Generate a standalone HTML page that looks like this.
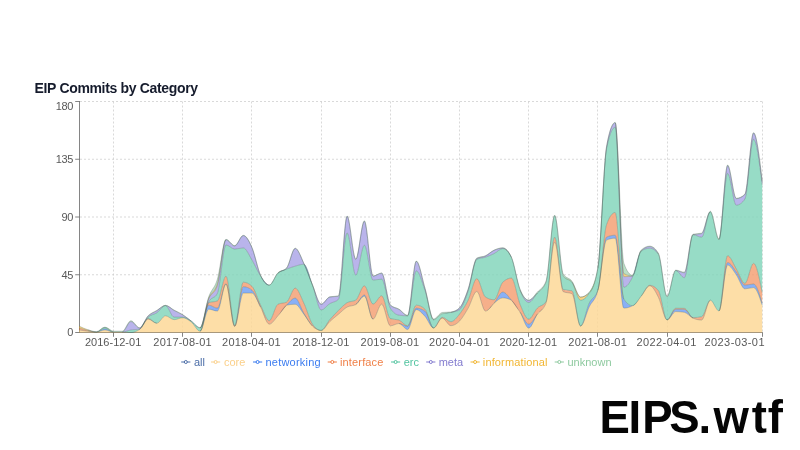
<!DOCTYPE html>
<html><head><meta charset="utf-8"><title>EIP Commits by Category</title>
<style>
html,body{margin:0;padding:0;background:#fff;}
body{width:800px;height:450px;overflow:hidden;position:relative;font-family:"Liberation Sans",sans-serif;}
#title{position:absolute;left:34.5px;top:80px;font-size:14px;font-weight:700;color:#151b2c;letter-spacing:-0.33px;line-height:16px;white-space:nowrap;}
#brand{position:absolute;left:599.4px;top:393.4px;font-size:45.5px;font-weight:700;color:#050505;letter-spacing:0.45px;line-height:50px;white-space:nowrap;}
svg{position:absolute;left:0;top:0;}
.grid line{stroke:#cccccc;stroke-width:0.75;stroke-dasharray:2 2;}
.axes line{stroke:#666;stroke-width:0.8;}
.ticks text{font-family:"Liberation Sans",sans-serif;font-size:11px;fill:#585858;}
.ticks text.yl{letter-spacing:-0.3px;}
.legend text{font-family:"Liberation Sans",sans-serif;font-size:11px;}
</style></head><body>
<svg width="800" height="450" viewBox="0 0 800 450">
<g class="grid">
<line x1="80.00" y1="274.75" x2="762.20" y2="274.75"/>
<line x1="80.00" y1="217.00" x2="762.20" y2="217.00"/>
<line x1="80.00" y1="159.25" x2="762.20" y2="159.25"/>
<line x1="80.00" y1="101.50" x2="762.20" y2="101.50"/>
<line x1="113.50" y1="101.50" x2="113.50" y2="332.50"/>
<line x1="182.50" y1="101.50" x2="182.50" y2="332.50"/>
<line x1="251.50" y1="101.50" x2="251.50" y2="332.50"/>
<line x1="321.50" y1="101.50" x2="321.50" y2="332.50"/>
<line x1="390.50" y1="101.50" x2="390.50" y2="332.50"/>
<line x1="459.50" y1="101.50" x2="459.50" y2="332.50"/>
<line x1="528.50" y1="101.50" x2="528.50" y2="332.50"/>
<line x1="597.50" y1="101.50" x2="597.50" y2="332.50"/>
<line x1="667.50" y1="101.50" x2="667.50" y2="332.50"/>
<line x1="762.50" y1="101.50" x2="762.50" y2="332.50"/>
</g>
<path d="M79.00,326.08C81.88,327.41,84.77,328.74,87.65,329.68C90.53,330.62,93.41,331.73,96.30,331.73C99.18,331.73,102.06,327.11,104.94,327.11C107.83,327.11,110.71,331.22,113.59,331.22C116.48,331.22,119.36,331.22,122.24,331.22C125.12,331.22,128.01,320.69,130.89,320.69C133.77,320.69,136.65,327.75,139.54,327.75C142.42,327.75,145.30,318.58,148.18,315.69C151.07,312.80,153.95,312.16,156.83,310.43C159.72,308.69,162.60,305.29,165.48,305.29C168.36,305.29,171.25,308.61,174.13,310.17C177.01,311.73,179.89,312.82,182.78,314.66C185.66,316.50,188.54,319.05,191.43,321.21C194.31,323.37,197.19,327.62,200.07,327.62C202.96,327.62,205.84,304.89,208.72,296.82C211.60,288.76,214.49,288.82,217.37,279.24C220.25,269.66,223.14,239.33,226.02,239.33C228.90,239.33,231.78,245.62,234.67,245.62C237.55,245.62,240.43,235.35,243.31,235.35C246.20,235.35,249.08,240.74,251.96,247.41C254.84,254.09,257.73,269.12,260.61,275.39C263.49,281.66,266.38,285.02,269.26,285.02C272.14,285.02,275.02,275.65,277.91,272.82C280.79,270.00,283.67,271.24,286.55,268.08C289.44,264.91,292.32,248.19,295.20,248.19C298.09,248.19,300.97,257.19,303.85,263.33C306.73,269.47,309.62,278.19,312.50,285.02C315.38,291.84,318.26,304.27,321.15,304.27C324.03,304.27,326.91,297.42,329.79,296.82C332.68,296.22,335.56,296.52,338.44,295.93C341.33,295.33,344.21,215.97,347.09,215.97C349.97,215.97,352.86,259.09,355.74,259.09C358.62,259.09,361.50,220.85,364.39,220.85C367.27,220.85,370.15,276.03,373.04,276.03C375.92,276.03,378.80,272.95,381.68,272.95C384.57,272.95,387.45,302.08,390.33,304.91C393.21,307.73,396.10,307.43,398.98,309.14C401.86,310.85,404.75,315.18,407.63,315.18C410.51,315.18,413.39,261.02,416.28,261.02C419.16,261.02,422.04,278.30,424.92,287.97C427.81,297.64,430.69,319.02,433.57,319.02C436.45,319.02,439.34,312.82,442.22,312.48C445.10,312.14,447.99,312.31,450.87,311.97C453.75,311.62,456.63,310.60,459.52,307.86C462.40,305.12,465.28,297.42,468.16,289.12C471.05,280.82,473.93,259.61,476.81,258.07C479.70,256.53,482.58,257.08,485.46,255.76C488.34,254.43,491.23,251.44,494.11,250.11C496.99,248.78,499.87,247.80,502.76,247.80C505.64,247.80,508.52,250.92,511.41,257.17C514.29,263.41,517.17,281.96,520.05,289.12C522.94,296.29,525.82,300.16,528.70,300.16C531.58,300.16,534.47,295.24,537.35,292.07C540.23,288.91,543.11,288.44,546.00,281.17C548.88,273.89,551.76,215.20,554.65,215.20C557.53,215.20,560.41,269.40,563.29,274.11C566.18,278.81,569.06,277.34,571.94,281.17C574.82,285.00,577.71,297.08,580.59,297.08C583.47,297.08,586.36,295.41,589.24,292.07C592.12,288.74,595.00,283.73,597.89,267.05C600.77,250.37,603.65,162.84,606.53,146.67C609.42,130.50,612.30,122.42,615.18,122.42C618.06,122.42,620.95,255.16,623.83,263.20C626.71,271.24,629.60,275.26,632.48,275.26C635.36,275.26,638.24,252.76,641.13,250.11C644.01,247.46,646.89,246.13,649.77,246.13C652.66,246.13,655.54,248.48,658.42,253.19C661.31,257.90,664.19,296.18,667.07,296.18C669.95,296.18,672.84,270.13,675.72,270.13C678.60,270.13,681.48,272.18,684.37,272.18C687.25,272.18,690.13,234.88,693.02,234.20C695.90,233.51,698.78,233.85,701.66,233.17C704.55,232.49,707.43,211.22,710.31,211.22C713.19,211.22,716.08,238.82,718.96,238.82C721.84,238.82,724.72,165.02,727.61,165.02C730.49,165.02,733.37,198.26,736.26,198.26C739.14,198.26,742.02,196.89,744.90,194.16C747.79,191.42,750.67,132.69,753.55,132.69C756.43,132.69,759.32,156.88,762.20,181.07L762.20,332.50L79.00,332.50Z" fill="#fff" fill-opacity="0.6" stroke="none"/>
<g class="axes">
<line x1="79.50" y1="101.00" x2="79.50" y2="333.00"/>
<line x1="79.00" y1="332.50" x2="762.70" y2="332.50"/>
<line x1="75.20" y1="332.50" x2="79.50" y2="332.50"/>
<line x1="75.20" y1="274.75" x2="79.50" y2="274.75"/>
<line x1="75.20" y1="217.00" x2="79.50" y2="217.00"/>
<line x1="75.20" y1="159.25" x2="79.50" y2="159.25"/>
<line x1="75.20" y1="101.50" x2="79.50" y2="101.50"/>
<line x1="113.50" y1="332.50" x2="113.50" y2="336.80"/>
<line x1="182.50" y1="332.50" x2="182.50" y2="336.80"/>
<line x1="251.50" y1="332.50" x2="251.50" y2="336.80"/>
<line x1="321.50" y1="332.50" x2="321.50" y2="336.80"/>
<line x1="390.50" y1="332.50" x2="390.50" y2="336.80"/>
<line x1="459.50" y1="332.50" x2="459.50" y2="336.80"/>
<line x1="528.50" y1="332.50" x2="528.50" y2="336.80"/>
<line x1="597.50" y1="332.50" x2="597.50" y2="336.80"/>
<line x1="667.50" y1="332.50" x2="667.50" y2="336.80"/>
<line x1="762.50" y1="332.50" x2="762.50" y2="336.80"/>
</g>
<g class="areas">
<path d="M79.00,329.93C81.88,330.39,84.77,330.85,87.65,331.22C90.53,331.58,93.41,332.12,96.30,332.12C99.18,332.12,102.06,329.93,104.94,329.93C107.83,329.93,110.71,332.12,113.59,332.12C116.48,332.12,119.36,332.12,122.24,332.12C125.12,332.12,128.01,332.50,130.89,332.50C133.77,332.50,136.65,331.47,139.54,329.42C142.42,327.37,145.30,319.15,148.18,319.15C151.07,319.15,153.95,323.26,156.83,323.26C159.72,323.26,162.60,315.82,165.48,315.82C168.36,315.82,171.25,319.67,174.13,319.67C177.01,319.67,179.89,317.74,182.78,317.74C185.66,317.74,188.54,319.99,191.43,322.23C194.31,324.48,197.19,331.22,200.07,331.22C202.96,331.22,205.84,309.14,208.72,309.14C211.60,309.14,214.49,311.07,217.37,311.07C220.25,311.07,223.14,284.12,226.02,284.12C228.90,284.12,231.78,326.34,234.67,326.34C237.55,326.34,240.43,293.10,243.31,293.10C246.20,293.10,249.08,293.10,251.96,293.10C254.84,293.10,257.73,301.91,260.61,307.09C263.49,312.27,266.38,324.16,269.26,324.16C272.14,324.16,275.02,318.98,277.91,315.82C280.79,312.65,283.67,305.76,286.55,305.17C289.44,304.57,292.32,304.27,295.20,304.27C298.09,304.27,300.97,310.51,303.85,314.15C306.73,317.78,309.62,323.37,312.50,326.08C315.38,328.80,318.26,330.45,321.15,330.45C324.03,330.45,326.91,324.29,329.79,321.59C332.68,318.90,335.56,316.69,338.44,314.28C341.33,311.86,344.21,308.72,347.09,307.09C349.97,305.46,352.86,306.23,355.74,304.52C358.62,302.81,361.50,296.18,364.39,296.18C367.27,296.18,370.15,319.15,373.04,319.15C375.92,319.15,378.80,304.14,381.68,304.14C384.57,304.14,387.45,325.83,390.33,325.83C393.21,325.83,396.10,323.52,398.98,323.52C401.86,323.52,404.75,329.55,407.63,329.55C410.51,329.55,413.39,309.66,416.28,309.66C419.16,309.66,422.04,313.14,424.92,316.20C427.81,319.26,430.69,328.01,433.57,328.01C436.45,328.01,439.34,318.13,442.22,318.13C445.10,318.13,447.99,325.70,450.87,325.70C453.75,325.70,456.63,324.01,459.52,321.08C462.40,318.15,465.28,313.06,468.16,308.12C471.05,303.18,473.93,291.43,476.81,291.43C479.70,291.43,482.58,311.07,485.46,311.07C488.34,311.07,491.23,305.31,494.11,303.11C496.99,300.91,499.87,297.85,502.76,297.85C505.64,297.85,508.52,298.62,511.41,300.16C514.29,301.70,517.17,307.43,520.05,312.10C522.94,316.76,525.82,328.14,528.70,328.14C531.58,328.14,534.47,318.32,537.35,314.15C540.23,309.98,543.11,310.47,546.00,303.11C548.88,295.75,551.76,242.15,554.65,242.15C557.53,242.15,560.41,290.32,563.29,291.69C566.18,293.06,569.06,292.37,571.94,293.74C574.82,295.11,577.71,326.08,580.59,326.08C583.47,326.08,586.36,312.82,589.24,306.83C592.12,300.84,595.00,301.27,597.89,290.15C600.77,279.03,603.65,241.38,606.53,240.10C609.42,238.82,612.30,238.18,615.18,238.18C618.06,238.18,620.95,308.12,623.83,308.12C626.71,308.12,629.60,307.30,632.48,305.68C635.36,304.05,638.24,299.50,641.13,296.18C644.01,292.87,646.89,285.79,649.77,285.79C652.66,285.79,655.54,291.65,658.42,297.34C661.31,303.03,664.19,319.92,667.07,319.92C669.95,319.92,672.84,311.58,675.72,311.58C678.60,311.58,681.48,311.84,684.37,312.35C687.25,312.87,690.13,316.84,693.02,318.13C695.90,319.41,698.78,320.05,701.66,320.05C704.55,320.05,707.43,300.16,710.31,300.16C713.19,300.16,716.08,310.94,718.96,310.94C721.84,310.94,724.72,265.12,727.61,265.12C730.49,265.12,733.37,270.79,736.26,274.75C739.14,278.71,742.02,288.87,744.90,288.87C747.79,288.87,750.67,287.58,753.55,287.58C756.43,287.58,759.32,296.37,762.20,305.17L762.20,332.50C759.32,332.50,756.43,332.50,753.55,332.50C750.67,332.50,747.79,332.50,744.90,332.50C742.02,332.50,739.14,332.50,736.26,332.50C733.37,332.50,730.49,332.50,727.61,332.50C724.72,332.50,721.84,332.50,718.96,332.50C716.08,332.50,713.19,332.50,710.31,332.50C707.43,332.50,704.55,332.50,701.66,332.50C698.78,332.50,695.90,332.50,693.02,332.50C690.13,332.50,687.25,332.50,684.37,332.50C681.48,332.50,678.60,332.50,675.72,332.50C672.84,332.50,669.95,332.50,667.07,332.50C664.19,332.50,661.31,332.50,658.42,332.50C655.54,332.50,652.66,332.50,649.77,332.50C646.89,332.50,644.01,332.50,641.13,332.50C638.24,332.50,635.36,332.50,632.48,332.50C629.60,332.50,626.71,332.50,623.83,332.50C620.95,332.50,618.06,332.50,615.18,332.50C612.30,332.50,609.42,332.50,606.53,332.50C603.65,332.50,600.77,332.50,597.89,332.50C595.00,332.50,592.12,332.50,589.24,332.50C586.36,332.50,583.47,332.50,580.59,332.50C577.71,332.50,574.82,332.50,571.94,332.50C569.06,332.50,566.18,332.50,563.29,332.50C560.41,332.50,557.53,332.50,554.65,332.50C551.76,332.50,548.88,332.50,546.00,332.50C543.11,332.50,540.23,332.50,537.35,332.50C534.47,332.50,531.58,332.50,528.70,332.50C525.82,332.50,522.94,332.50,520.05,332.50C517.17,332.50,514.29,332.50,511.41,332.50C508.52,332.50,505.64,332.50,502.76,332.50C499.87,332.50,496.99,332.50,494.11,332.50C491.23,332.50,488.34,332.50,485.46,332.50C482.58,332.50,479.70,332.50,476.81,332.50C473.93,332.50,471.05,332.50,468.16,332.50C465.28,332.50,462.40,332.50,459.52,332.50C456.63,332.50,453.75,332.50,450.87,332.50C447.99,332.50,445.10,332.50,442.22,332.50C439.34,332.50,436.45,332.50,433.57,332.50C430.69,332.50,427.81,332.50,424.92,332.50C422.04,332.50,419.16,332.50,416.28,332.50C413.39,332.50,410.51,332.50,407.63,332.50C404.75,332.50,401.86,332.50,398.98,332.50C396.10,332.50,393.21,332.50,390.33,332.50C387.45,332.50,384.57,332.50,381.68,332.50C378.80,332.50,375.92,332.50,373.04,332.50C370.15,332.50,367.27,332.50,364.39,332.50C361.50,332.50,358.62,332.50,355.74,332.50C352.86,332.50,349.97,332.50,347.09,332.50C344.21,332.50,341.33,332.50,338.44,332.50C335.56,332.50,332.68,332.50,329.79,332.50C326.91,332.50,324.03,332.50,321.15,332.50C318.26,332.50,315.38,332.50,312.50,332.50C309.62,332.50,306.73,332.50,303.85,332.50C300.97,332.50,298.09,332.50,295.20,332.50C292.32,332.50,289.44,332.50,286.55,332.50C283.67,332.50,280.79,332.50,277.91,332.50C275.02,332.50,272.14,332.50,269.26,332.50C266.38,332.50,263.49,332.50,260.61,332.50C257.73,332.50,254.84,332.50,251.96,332.50C249.08,332.50,246.20,332.50,243.31,332.50C240.43,332.50,237.55,332.50,234.67,332.50C231.78,332.50,228.90,332.50,226.02,332.50C223.14,332.50,220.25,332.50,217.37,332.50C214.49,332.50,211.60,332.50,208.72,332.50C205.84,332.50,202.96,332.50,200.07,332.50C197.19,332.50,194.31,332.50,191.43,332.50C188.54,332.50,185.66,332.50,182.78,332.50C179.89,332.50,177.01,332.50,174.13,332.50C171.25,332.50,168.36,332.50,165.48,332.50C162.60,332.50,159.72,332.50,156.83,332.50C153.95,332.50,151.07,332.50,148.18,332.50C145.30,332.50,142.42,332.50,139.54,332.50C136.65,332.50,133.77,332.50,130.89,332.50C128.01,332.50,125.12,332.50,122.24,332.50C119.36,332.50,116.48,332.50,113.59,332.50C110.71,332.50,107.83,332.50,104.94,332.50C102.06,332.50,99.18,332.50,96.30,332.50C93.41,332.50,90.53,332.50,87.65,332.50C84.77,332.50,81.88,332.50,79.00,332.50Z" fill="#fbc86c" fill-opacity="0.6" stroke="none"/>
<path d="M79.00,329.93C81.88,330.39,84.77,330.85,87.65,331.22C90.53,331.58,93.41,332.12,96.30,332.12C99.18,332.12,102.06,328.65,104.94,328.65C107.83,328.65,110.71,332.12,113.59,332.12C116.48,332.12,119.36,332.12,122.24,332.12C125.12,332.12,128.01,332.50,130.89,332.50C133.77,332.50,136.65,331.47,139.54,329.42C142.42,327.37,145.30,319.15,148.18,319.15C151.07,319.15,153.95,323.26,156.83,323.26C159.72,323.26,162.60,315.82,165.48,315.82C168.36,315.82,171.25,319.67,174.13,319.67C177.01,319.67,179.89,317.74,182.78,317.74C185.66,317.74,188.54,319.99,191.43,322.23C194.31,324.48,197.19,331.22,200.07,331.22C202.96,331.22,205.84,305.17,208.72,305.17C211.60,305.17,214.49,308.12,217.37,308.12C220.25,308.12,223.14,283.73,226.02,283.73C228.90,283.73,231.78,326.34,234.67,326.34C237.55,326.34,240.43,286.69,243.31,286.69C246.20,286.69,249.08,287.84,251.96,290.15C254.84,292.46,257.73,301.42,260.61,307.09C263.49,312.76,266.38,324.16,269.26,324.16C272.14,324.16,275.02,318.98,277.91,315.82C280.79,312.65,283.67,308.12,286.55,305.17C289.44,302.21,292.32,298.11,295.20,298.11C298.09,298.11,300.97,308.59,303.85,313.25C306.73,317.91,309.62,323.22,312.50,326.08C315.38,328.95,318.26,330.45,321.15,330.45C324.03,330.45,326.91,324.29,329.79,321.59C332.68,318.90,335.56,316.69,338.44,314.28C341.33,311.86,344.21,308.72,347.09,307.09C349.97,305.46,352.86,306.23,355.74,304.52C358.62,302.81,361.50,295.03,364.39,295.03C367.27,295.03,370.15,319.15,373.04,319.15C375.92,319.15,378.80,304.14,381.68,304.14C384.57,304.14,387.45,325.83,390.33,325.83C393.21,325.83,396.10,323.52,398.98,323.52C401.86,323.52,404.75,326.34,407.63,326.34C410.51,326.34,413.39,308.12,416.28,308.12C419.16,308.12,422.04,309.10,424.92,311.07C427.81,313.04,430.69,328.01,433.57,328.01C436.45,328.01,439.34,318.13,442.22,318.13C445.10,318.13,447.99,325.70,450.87,325.70C453.75,325.70,456.63,324.01,459.52,321.08C462.40,318.15,465.28,313.06,468.16,308.12C471.05,303.18,473.93,291.43,476.81,291.43C479.70,291.43,482.58,311.07,485.46,311.07C488.34,311.07,491.23,306.28,494.11,303.11C496.99,299.95,499.87,292.07,502.76,292.07C505.64,292.07,508.52,296.82,511.41,300.16C514.29,303.50,517.17,308.10,520.05,312.10C522.94,316.09,525.82,324.16,528.70,324.16C531.58,324.16,534.47,317.66,537.35,314.15C540.23,310.64,543.11,310.47,546.00,303.11C548.88,295.75,551.76,242.15,554.65,242.15C557.53,242.15,560.41,290.32,563.29,291.69C566.18,293.06,569.06,292.37,571.94,293.74C574.82,295.11,577.71,326.08,580.59,326.08C583.47,326.08,586.36,308.97,589.24,302.98C592.12,296.99,595.00,298.71,597.89,290.15C600.77,281.59,603.65,238.43,606.53,237.15C609.42,235.86,612.30,235.22,615.18,235.22C618.06,235.22,620.95,294.77,623.83,299.13C626.71,303.50,629.60,305.68,632.48,305.68C635.36,305.68,638.24,299.50,641.13,296.18C644.01,292.87,646.89,285.79,649.77,285.79C652.66,285.79,655.54,291.65,658.42,297.34C661.31,303.03,664.19,319.92,667.07,319.92C669.95,319.92,672.84,309.27,675.72,309.27C678.60,309.27,681.48,309.31,684.37,309.40C687.25,309.49,690.13,316.84,693.02,318.13C695.90,319.41,698.78,320.05,701.66,320.05C704.55,320.05,707.43,300.16,710.31,300.16C713.19,300.16,716.08,310.94,718.96,310.94C721.84,310.94,724.72,262.56,727.61,262.56C730.49,262.56,733.37,268.03,736.26,271.80C739.14,275.56,742.02,285.14,744.90,285.14C747.79,285.14,750.67,283.99,753.55,283.99C756.43,283.99,759.32,293.55,762.20,303.11L762.20,305.17C759.32,296.37,756.43,287.58,753.55,287.58C750.67,287.58,747.79,288.87,744.90,288.87C742.02,288.87,739.14,278.71,736.26,274.75C733.37,270.79,730.49,265.12,727.61,265.12C724.72,265.12,721.84,310.94,718.96,310.94C716.08,310.94,713.19,300.16,710.31,300.16C707.43,300.16,704.55,320.05,701.66,320.05C698.78,320.05,695.90,319.41,693.02,318.13C690.13,316.84,687.25,312.87,684.37,312.35C681.48,311.84,678.60,311.58,675.72,311.58C672.84,311.58,669.95,319.92,667.07,319.92C664.19,319.92,661.31,303.03,658.42,297.34C655.54,291.65,652.66,285.79,649.77,285.79C646.89,285.79,644.01,292.87,641.13,296.18C638.24,299.50,635.36,304.05,632.48,305.68C629.60,307.30,626.71,308.12,623.83,308.12C620.95,308.12,618.06,238.18,615.18,238.18C612.30,238.18,609.42,238.82,606.53,240.10C603.65,241.38,600.77,279.03,597.89,290.15C595.00,301.27,592.12,300.84,589.24,306.83C586.36,312.82,583.47,326.08,580.59,326.08C577.71,326.08,574.82,295.11,571.94,293.74C569.06,292.37,566.18,293.06,563.29,291.69C560.41,290.32,557.53,242.15,554.65,242.15C551.76,242.15,548.88,295.75,546.00,303.11C543.11,310.47,540.23,309.98,537.35,314.15C534.47,318.32,531.58,328.14,528.70,328.14C525.82,328.14,522.94,316.76,520.05,312.10C517.17,307.43,514.29,301.70,511.41,300.16C508.52,298.62,505.64,297.85,502.76,297.85C499.87,297.85,496.99,300.91,494.11,303.11C491.23,305.31,488.34,311.07,485.46,311.07C482.58,311.07,479.70,291.43,476.81,291.43C473.93,291.43,471.05,303.18,468.16,308.12C465.28,313.06,462.40,318.15,459.52,321.08C456.63,324.01,453.75,325.70,450.87,325.70C447.99,325.70,445.10,318.13,442.22,318.13C439.34,318.13,436.45,328.01,433.57,328.01C430.69,328.01,427.81,319.26,424.92,316.20C422.04,313.14,419.16,309.66,416.28,309.66C413.39,309.66,410.51,329.55,407.63,329.55C404.75,329.55,401.86,323.52,398.98,323.52C396.10,323.52,393.21,325.83,390.33,325.83C387.45,325.83,384.57,304.14,381.68,304.14C378.80,304.14,375.92,319.15,373.04,319.15C370.15,319.15,367.27,296.18,364.39,296.18C361.50,296.18,358.62,302.81,355.74,304.52C352.86,306.23,349.97,305.46,347.09,307.09C344.21,308.72,341.33,311.86,338.44,314.28C335.56,316.69,332.68,318.90,329.79,321.59C326.91,324.29,324.03,330.45,321.15,330.45C318.26,330.45,315.38,328.80,312.50,326.08C309.62,323.37,306.73,317.78,303.85,314.15C300.97,310.51,298.09,304.27,295.20,304.27C292.32,304.27,289.44,304.57,286.55,305.17C283.67,305.76,280.79,312.65,277.91,315.82C275.02,318.98,272.14,324.16,269.26,324.16C266.38,324.16,263.49,312.27,260.61,307.09C257.73,301.91,254.84,293.10,251.96,293.10C249.08,293.10,246.20,293.10,243.31,293.10C240.43,293.10,237.55,326.34,234.67,326.34C231.78,326.34,228.90,284.12,226.02,284.12C223.14,284.12,220.25,311.07,217.37,311.07C214.49,311.07,211.60,309.14,208.72,309.14C205.84,309.14,202.96,331.22,200.07,331.22C197.19,331.22,194.31,324.48,191.43,322.23C188.54,319.99,185.66,317.74,182.78,317.74C179.89,317.74,177.01,319.67,174.13,319.67C171.25,319.67,168.36,315.82,165.48,315.82C162.60,315.82,159.72,323.26,156.83,323.26C153.95,323.26,151.07,319.15,148.18,319.15C145.30,319.15,142.42,327.37,139.54,329.42C136.65,331.47,133.77,332.50,130.89,332.50C128.01,332.50,125.12,332.12,122.24,332.12C119.36,332.12,116.48,332.12,113.59,332.12C110.71,332.12,107.83,329.93,104.94,329.93C102.06,329.93,99.18,332.12,96.30,332.12C93.41,332.12,90.53,331.58,87.65,331.22C84.77,330.85,81.88,330.39,79.00,329.93Z" fill="#3b7cf0" fill-opacity="0.6" stroke="none"/>
<path d="M79.00,328.01C81.88,328.89,84.77,329.76,87.65,330.45C90.53,331.13,93.41,332.12,96.30,332.12C99.18,332.12,102.06,328.65,104.94,328.65C107.83,328.65,110.71,332.12,113.59,332.12C116.48,332.12,119.36,332.12,122.24,332.12C125.12,332.12,128.01,332.50,130.89,332.50C133.77,332.50,136.65,331.47,139.54,329.42C142.42,327.37,145.30,318.38,148.18,318.38C151.07,318.38,153.95,323.26,156.83,323.26C159.72,323.26,162.60,315.82,165.48,315.82C168.36,315.82,171.25,319.67,174.13,319.67C177.01,319.67,179.89,317.74,182.78,317.74C185.66,317.74,188.54,319.99,191.43,322.23C194.31,324.48,197.19,331.22,200.07,331.22C202.96,331.22,205.84,303.92,208.72,302.73C211.60,301.53,214.49,302.13,217.37,300.93C220.25,299.73,223.14,276.16,226.02,276.16C228.90,276.16,231.78,325.44,234.67,325.44C237.55,325.44,240.43,282.19,243.31,282.19C246.20,282.19,249.08,283.56,251.96,286.30C254.84,289.04,257.73,299.43,260.61,305.17C263.49,310.90,266.38,320.69,269.26,320.69C272.14,320.69,275.02,305.72,277.91,304.27C280.79,302.81,283.67,303.54,286.55,302.08C289.44,300.63,292.32,288.10,295.20,288.10C298.09,288.10,300.97,297.10,303.85,303.11C306.73,309.12,309.62,319.97,312.50,324.16C315.38,328.35,318.26,330.45,321.15,330.45C324.03,330.45,326.91,323.00,329.79,319.67C332.68,316.33,335.56,313.25,338.44,310.43C341.33,307.60,344.21,304.44,347.09,302.73C349.97,301.02,352.86,301.87,355.74,300.16C358.62,298.45,361.50,285.79,364.39,285.79C367.27,285.79,370.15,304.14,373.04,304.14C375.92,304.14,378.80,295.80,381.68,295.80C384.57,295.80,387.45,317.70,390.33,318.64C393.21,319.58,396.10,319.11,398.98,320.05C401.86,320.99,404.75,325.83,407.63,325.83C410.51,325.83,413.39,305.17,416.28,305.17C419.16,305.17,422.04,306.49,424.92,309.14C427.81,311.80,430.69,328.01,433.57,328.01C436.45,328.01,439.34,317.36,442.22,317.36C445.10,317.36,447.99,321.72,450.87,321.72C453.75,321.72,456.63,317.74,459.52,314.15C462.40,310.55,465.28,306.08,468.16,300.16C471.05,294.24,473.93,278.60,476.81,278.60C479.70,278.60,482.58,295.28,485.46,297.08C488.34,298.88,491.23,299.77,494.11,299.77C496.99,299.77,499.87,284.93,502.76,282.19C505.64,279.46,508.52,278.09,511.41,278.09C514.29,278.09,517.17,297.42,520.05,304.27C522.94,311.11,525.82,319.15,528.70,319.15C531.58,319.15,534.47,311.03,537.35,308.12C540.23,305.21,543.11,305.98,546.00,301.70C548.88,297.42,551.76,237.15,554.65,237.15C557.53,237.15,560.41,288.87,563.29,289.64C566.18,290.41,569.06,290.02,571.94,290.79C574.82,291.56,577.71,326.08,580.59,326.08C583.47,326.08,586.36,308.97,589.24,302.98C592.12,296.99,595.00,298.71,597.89,290.15C600.77,281.59,603.65,232.83,606.53,224.70C609.42,216.57,612.30,212.51,615.18,212.51C618.06,212.51,620.95,294.77,623.83,299.13C626.71,303.50,629.60,305.68,632.48,305.68C635.36,305.68,638.24,299.58,641.13,296.18C644.01,292.78,646.89,285.27,649.77,285.27C652.66,285.27,655.54,287.07,658.42,290.66C661.31,294.26,664.19,319.92,667.07,319.92C669.95,319.92,672.84,308.25,675.72,308.25C678.60,308.25,681.48,308.29,684.37,308.37C687.25,308.46,690.13,317.61,693.02,317.61C695.90,317.61,698.78,317.31,701.66,316.71C704.55,316.12,707.43,300.16,710.31,300.16C713.19,300.16,716.08,310.94,718.96,310.94C721.84,310.94,724.72,255.76,727.61,255.76C730.49,255.76,733.37,264.23,736.26,268.85C739.14,273.47,742.02,283.48,744.90,283.48C747.79,283.48,750.67,263.33,753.55,263.33C756.43,263.33,759.32,278.02,762.20,292.72L762.20,303.11C759.32,293.55,756.43,283.99,753.55,283.99C750.67,283.99,747.79,285.14,744.90,285.14C742.02,285.14,739.14,275.56,736.26,271.80C733.37,268.03,730.49,262.56,727.61,262.56C724.72,262.56,721.84,310.94,718.96,310.94C716.08,310.94,713.19,300.16,710.31,300.16C707.43,300.16,704.55,320.05,701.66,320.05C698.78,320.05,695.90,319.41,693.02,318.13C690.13,316.84,687.25,309.49,684.37,309.40C681.48,309.31,678.60,309.27,675.72,309.27C672.84,309.27,669.95,319.92,667.07,319.92C664.19,319.92,661.31,303.03,658.42,297.34C655.54,291.65,652.66,285.79,649.77,285.79C646.89,285.79,644.01,292.87,641.13,296.18C638.24,299.50,635.36,305.68,632.48,305.68C629.60,305.68,626.71,303.50,623.83,299.13C620.95,294.77,618.06,235.22,615.18,235.22C612.30,235.22,609.42,235.86,606.53,237.15C603.65,238.43,600.77,281.59,597.89,290.15C595.00,298.71,592.12,296.99,589.24,302.98C586.36,308.97,583.47,326.08,580.59,326.08C577.71,326.08,574.82,295.11,571.94,293.74C569.06,292.37,566.18,293.06,563.29,291.69C560.41,290.32,557.53,242.15,554.65,242.15C551.76,242.15,548.88,295.75,546.00,303.11C543.11,310.47,540.23,310.64,537.35,314.15C534.47,317.66,531.58,324.16,528.70,324.16C525.82,324.16,522.94,316.09,520.05,312.10C517.17,308.10,514.29,303.50,511.41,300.16C508.52,296.82,505.64,292.07,502.76,292.07C499.87,292.07,496.99,299.95,494.11,303.11C491.23,306.28,488.34,311.07,485.46,311.07C482.58,311.07,479.70,291.43,476.81,291.43C473.93,291.43,471.05,303.18,468.16,308.12C465.28,313.06,462.40,318.15,459.52,321.08C456.63,324.01,453.75,325.70,450.87,325.70C447.99,325.70,445.10,318.13,442.22,318.13C439.34,318.13,436.45,328.01,433.57,328.01C430.69,328.01,427.81,313.04,424.92,311.07C422.04,309.10,419.16,308.12,416.28,308.12C413.39,308.12,410.51,326.34,407.63,326.34C404.75,326.34,401.86,323.52,398.98,323.52C396.10,323.52,393.21,325.83,390.33,325.83C387.45,325.83,384.57,304.14,381.68,304.14C378.80,304.14,375.92,319.15,373.04,319.15C370.15,319.15,367.27,295.03,364.39,295.03C361.50,295.03,358.62,302.81,355.74,304.52C352.86,306.23,349.97,305.46,347.09,307.09C344.21,308.72,341.33,311.86,338.44,314.28C335.56,316.69,332.68,318.90,329.79,321.59C326.91,324.29,324.03,330.45,321.15,330.45C318.26,330.45,315.38,328.95,312.50,326.08C309.62,323.22,306.73,317.91,303.85,313.25C300.97,308.59,298.09,298.11,295.20,298.11C292.32,298.11,289.44,302.21,286.55,305.17C283.67,308.12,280.79,312.65,277.91,315.82C275.02,318.98,272.14,324.16,269.26,324.16C266.38,324.16,263.49,312.76,260.61,307.09C257.73,301.42,254.84,292.46,251.96,290.15C249.08,287.84,246.20,286.69,243.31,286.69C240.43,286.69,237.55,326.34,234.67,326.34C231.78,326.34,228.90,283.73,226.02,283.73C223.14,283.73,220.25,308.12,217.37,308.12C214.49,308.12,211.60,305.17,208.72,305.17C205.84,305.17,202.96,331.22,200.07,331.22C197.19,331.22,194.31,324.48,191.43,322.23C188.54,319.99,185.66,317.74,182.78,317.74C179.89,317.74,177.01,319.67,174.13,319.67C171.25,319.67,168.36,315.82,165.48,315.82C162.60,315.82,159.72,323.26,156.83,323.26C153.95,323.26,151.07,319.15,148.18,319.15C145.30,319.15,142.42,327.37,139.54,329.42C136.65,331.47,133.77,332.50,130.89,332.50C128.01,332.50,125.12,332.12,122.24,332.12C119.36,332.12,116.48,332.12,113.59,332.12C110.71,332.12,107.83,328.65,104.94,328.65C102.06,328.65,99.18,332.12,96.30,332.12C93.41,332.12,90.53,331.58,87.65,331.22C84.77,330.85,81.88,330.39,79.00,329.93Z" fill="#f07a3c" fill-opacity="0.6" stroke="none"/>
<path d="M79.00,328.01C81.88,328.89,84.77,329.76,87.65,330.45C90.53,331.13,93.41,332.12,96.30,332.12C99.18,332.12,102.06,327.37,104.94,327.37C107.83,327.37,110.71,332.12,113.59,332.12C116.48,332.12,119.36,332.12,122.24,332.12C125.12,332.12,128.01,330.43,130.89,329.93C133.77,329.44,136.65,329.68,139.54,329.16C142.42,328.65,145.30,319.84,148.18,317.10C151.07,314.36,153.95,314.66,156.83,312.74C159.72,310.81,162.60,305.55,165.48,305.55C168.36,305.55,171.25,317.10,174.13,317.10C177.01,317.10,179.89,317.10,182.78,317.10C185.66,317.10,188.54,319.41,191.43,321.21C194.31,323.00,197.19,327.88,200.07,327.88C202.96,327.88,205.84,307.69,208.72,301.96C211.60,296.22,214.49,299.09,217.37,293.36C220.25,287.63,223.14,244.98,226.02,244.98C228.90,244.98,231.78,249.08,234.67,249.08C237.55,249.08,240.43,247.93,243.31,247.93C246.20,247.93,249.08,255.31,251.96,259.99C254.84,264.68,257.73,271.84,260.61,276.03C263.49,280.23,266.38,285.14,269.26,285.14C272.14,285.14,275.02,275.88,277.91,273.21C280.79,270.54,283.67,270.28,286.55,269.10C289.44,267.93,292.32,266.96,295.20,266.15C298.09,265.34,300.97,264.23,303.85,264.23C306.73,264.23,309.62,277.53,312.50,285.14C315.38,292.76,318.26,309.91,321.15,309.91C324.03,309.91,326.91,305.38,329.79,303.62C332.68,301.87,335.56,302.21,338.44,299.39C341.33,296.57,344.21,232.91,347.09,232.91C349.97,232.91,352.86,275.13,355.74,275.13C358.62,275.13,361.50,245.23,364.39,245.23C367.27,245.23,370.15,280.14,373.04,280.14C375.92,280.14,378.80,279.11,381.68,279.11C384.57,279.11,387.45,303.41,390.33,308.12C393.21,312.82,396.10,314.75,398.98,315.18C401.86,315.60,404.75,315.82,407.63,315.82C410.51,315.82,413.39,270.90,416.28,270.90C419.16,270.90,422.04,282.00,424.92,290.15C427.81,298.30,430.69,319.80,433.57,319.80C436.45,319.80,439.34,314.62,442.22,313.76C445.10,312.91,447.99,313.16,450.87,312.48C453.75,311.80,456.63,311.54,459.52,309.66C462.40,307.77,465.28,299.56,468.16,291.18C471.05,282.79,473.93,260.80,476.81,259.35C479.70,257.90,482.58,258.13,485.46,257.17C488.34,256.21,491.23,255.01,494.11,253.57C496.99,252.14,499.87,248.57,502.76,248.57C505.64,248.57,508.52,251.52,511.41,257.43C514.29,263.33,517.17,282.64,520.05,290.15C522.94,297.66,525.82,302.47,528.70,302.47C531.58,302.47,534.47,296.48,537.35,293.10C540.23,289.72,543.11,289.47,546.00,282.19C548.88,274.92,551.76,215.72,554.65,215.72C557.53,215.72,560.41,272.14,563.29,276.16C566.18,280.18,569.06,278.19,571.94,282.19C574.82,286.19,577.71,300.16,580.59,300.16C583.47,300.16,586.36,297.81,589.24,293.10C592.12,288.40,595.00,284.85,597.89,268.33C600.77,251.82,603.65,163.53,606.53,148.98C609.42,134.44,612.30,127.17,615.18,127.17C618.06,127.17,620.95,287.20,623.83,287.20C626.71,287.20,629.60,283.09,632.48,277.06C635.36,271.03,638.24,252.89,641.13,251.01C644.01,249.13,646.89,248.19,649.77,248.19C652.66,248.19,655.54,250.20,658.42,254.22C661.31,258.24,664.19,296.82,667.07,296.82C669.95,296.82,672.84,270.51,675.72,270.51C678.60,270.51,681.48,277.70,684.37,277.70C687.25,277.70,690.13,234.71,693.02,234.71C695.90,234.71,698.78,237.15,701.66,237.15C704.55,237.15,707.43,211.87,710.31,211.87C713.19,211.87,716.08,239.71,718.96,239.71C721.84,239.71,724.72,173.37,727.61,173.37C730.49,173.37,733.37,205.19,736.26,205.19C739.14,205.19,742.02,203.14,744.90,199.03C747.79,194.93,750.67,139.23,753.55,139.23C756.43,139.23,759.32,162.07,762.20,184.92L762.20,292.72C759.32,278.02,756.43,263.33,753.55,263.33C750.67,263.33,747.79,283.48,744.90,283.48C742.02,283.48,739.14,273.47,736.26,268.85C733.37,264.23,730.49,255.76,727.61,255.76C724.72,255.76,721.84,310.94,718.96,310.94C716.08,310.94,713.19,300.16,710.31,300.16C707.43,300.16,704.55,316.12,701.66,316.71C698.78,317.31,695.90,317.61,693.02,317.61C690.13,317.61,687.25,308.46,684.37,308.37C681.48,308.29,678.60,308.25,675.72,308.25C672.84,308.25,669.95,319.92,667.07,319.92C664.19,319.92,661.31,294.26,658.42,290.66C655.54,287.07,652.66,285.27,649.77,285.27C646.89,285.27,644.01,292.78,641.13,296.18C638.24,299.58,635.36,305.68,632.48,305.68C629.60,305.68,626.71,303.50,623.83,299.13C620.95,294.77,618.06,212.51,615.18,212.51C612.30,212.51,609.42,216.57,606.53,224.70C603.65,232.83,600.77,281.59,597.89,290.15C595.00,298.71,592.12,296.99,589.24,302.98C586.36,308.97,583.47,326.08,580.59,326.08C577.71,326.08,574.82,291.56,571.94,290.79C569.06,290.02,566.18,290.41,563.29,289.64C560.41,288.87,557.53,237.15,554.65,237.15C551.76,237.15,548.88,297.42,546.00,301.70C543.11,305.98,540.23,305.21,537.35,308.12C534.47,311.03,531.58,319.15,528.70,319.15C525.82,319.15,522.94,311.11,520.05,304.27C517.17,297.42,514.29,278.09,511.41,278.09C508.52,278.09,505.64,279.46,502.76,282.19C499.87,284.93,496.99,299.77,494.11,299.77C491.23,299.77,488.34,298.88,485.46,297.08C482.58,295.28,479.70,278.60,476.81,278.60C473.93,278.60,471.05,294.24,468.16,300.16C465.28,306.08,462.40,310.55,459.52,314.15C456.63,317.74,453.75,321.72,450.87,321.72C447.99,321.72,445.10,317.36,442.22,317.36C439.34,317.36,436.45,328.01,433.57,328.01C430.69,328.01,427.81,311.80,424.92,309.14C422.04,306.49,419.16,305.17,416.28,305.17C413.39,305.17,410.51,325.83,407.63,325.83C404.75,325.83,401.86,320.99,398.98,320.05C396.10,319.11,393.21,319.58,390.33,318.64C387.45,317.70,384.57,295.80,381.68,295.80C378.80,295.80,375.92,304.14,373.04,304.14C370.15,304.14,367.27,285.79,364.39,285.79C361.50,285.79,358.62,298.45,355.74,300.16C352.86,301.87,349.97,301.02,347.09,302.73C344.21,304.44,341.33,307.60,338.44,310.43C335.56,313.25,332.68,316.33,329.79,319.67C326.91,323.00,324.03,330.45,321.15,330.45C318.26,330.45,315.38,328.35,312.50,324.16C309.62,319.97,306.73,309.12,303.85,303.11C300.97,297.10,298.09,288.10,295.20,288.10C292.32,288.10,289.44,300.63,286.55,302.08C283.67,303.54,280.79,302.81,277.91,304.27C275.02,305.72,272.14,320.69,269.26,320.69C266.38,320.69,263.49,310.90,260.61,305.17C257.73,299.43,254.84,289.04,251.96,286.30C249.08,283.56,246.20,282.19,243.31,282.19C240.43,282.19,237.55,325.44,234.67,325.44C231.78,325.44,228.90,276.16,226.02,276.16C223.14,276.16,220.25,299.73,217.37,300.93C214.49,302.13,211.60,301.53,208.72,302.73C205.84,303.92,202.96,331.22,200.07,331.22C197.19,331.22,194.31,324.48,191.43,322.23C188.54,319.99,185.66,317.74,182.78,317.74C179.89,317.74,177.01,319.67,174.13,319.67C171.25,319.67,168.36,315.82,165.48,315.82C162.60,315.82,159.72,323.26,156.83,323.26C153.95,323.26,151.07,318.38,148.18,318.38C145.30,318.38,142.42,327.37,139.54,329.42C136.65,331.47,133.77,332.50,130.89,332.50C128.01,332.50,125.12,332.12,122.24,332.12C119.36,332.12,116.48,332.12,113.59,332.12C110.71,332.12,107.83,328.65,104.94,328.65C102.06,328.65,99.18,332.12,96.30,332.12C93.41,332.12,90.53,331.13,87.65,330.45C84.77,329.76,81.88,328.89,79.00,328.01Z" fill="#52c4a0" fill-opacity="0.6" stroke="none"/>
<path d="M79.00,328.01C81.88,328.89,84.77,329.76,87.65,330.45C90.53,331.13,93.41,332.12,96.30,332.12C99.18,332.12,102.06,327.37,104.94,327.37C107.83,327.37,110.71,332.12,113.59,332.12C116.48,332.12,119.36,332.12,122.24,332.12C125.12,332.12,128.01,321.59,130.89,321.59C133.77,321.59,136.65,328.01,139.54,328.01C142.42,328.01,145.30,318.96,148.18,316.07C151.07,313.19,153.95,312.44,156.83,310.68C159.72,308.93,162.60,305.55,165.48,305.55C168.36,305.55,171.25,308.87,174.13,310.43C177.01,311.99,179.89,313.12,182.78,314.92C185.66,316.72,188.54,319.05,191.43,321.21C194.31,323.37,197.19,327.88,200.07,327.88C202.96,327.88,205.84,305.91,208.72,298.88C211.60,291.84,214.49,294.47,217.37,285.66C220.25,276.85,223.14,239.84,226.02,239.84C228.90,239.84,231.78,246.00,234.67,246.00C237.55,246.00,240.43,235.61,243.31,235.61C246.20,235.61,249.08,241.13,251.96,247.80C254.84,254.47,257.73,269.42,260.61,275.65C263.49,281.87,266.38,285.14,269.26,285.14C272.14,285.14,275.02,276.01,277.91,273.21C280.79,270.41,283.67,271.58,286.55,268.33C289.44,265.08,292.32,248.44,295.20,248.44C298.09,248.44,300.97,257.47,303.85,263.58C306.73,269.70,309.62,278.36,312.50,285.14C315.38,291.93,318.26,304.27,321.15,304.27C324.03,304.27,326.91,297.68,329.79,297.08C332.68,296.48,335.56,296.78,338.44,296.18C341.33,295.58,344.21,216.36,347.09,216.36C349.97,216.36,352.86,259.35,355.74,259.35C358.62,259.35,361.50,221.23,364.39,221.23C367.27,221.23,370.15,276.16,373.04,276.16C375.92,276.16,378.80,273.21,381.68,273.21C384.57,273.21,387.45,302.34,390.33,305.17C393.21,307.99,396.10,307.62,398.98,309.40C401.86,311.18,404.75,315.82,407.63,315.82C410.51,315.82,413.39,261.40,416.28,261.40C419.16,261.40,422.04,278.49,424.92,288.23C427.81,297.96,430.69,319.80,433.57,319.80C436.45,319.80,439.34,314.62,442.22,313.76C445.10,312.91,447.99,313.34,450.87,312.48C453.75,311.62,456.63,311.03,459.52,308.12C462.40,305.21,465.28,297.64,468.16,289.38C471.05,281.12,473.93,260.29,476.81,258.58C479.70,256.87,482.58,257.38,485.46,256.01C488.34,254.64,491.23,251.69,494.11,250.37C496.99,249.04,499.87,248.06,502.76,248.06C505.64,248.06,508.52,251.18,511.41,257.43C514.29,263.67,517.17,283.31,520.05,290.15C522.94,296.99,525.82,300.42,528.70,300.42C531.58,300.42,534.47,296.14,537.35,293.10C540.23,290.06,543.11,289.47,546.00,282.19C548.88,274.92,551.76,215.72,554.65,215.72C557.53,215.72,560.41,272.14,563.29,276.16C566.18,280.18,569.06,278.19,571.94,282.19C574.82,286.19,577.71,300.16,580.59,300.16C583.47,300.16,586.36,297.81,589.24,293.10C592.12,288.40,595.00,284.85,597.89,268.33C600.77,251.82,603.65,163.23,606.53,147.06C609.42,130.89,612.30,122.80,615.18,122.80C618.06,122.80,620.95,276.68,623.83,276.68C626.71,276.68,629.60,276.46,632.48,276.03C635.36,275.61,638.24,254.00,641.13,251.01C644.01,248.01,646.89,246.52,649.77,246.52C652.66,246.52,655.54,249.08,658.42,254.22C661.31,259.35,664.19,296.82,667.07,296.82C669.95,296.82,672.84,270.51,675.72,270.51C678.60,270.51,681.48,272.82,684.37,272.82C687.25,272.82,690.13,235.39,693.02,234.71C695.90,234.03,698.78,234.37,701.66,233.68C704.55,233.00,707.43,211.87,710.31,211.87C713.19,211.87,716.08,239.71,718.96,239.71C721.84,239.71,724.72,165.67,727.61,165.67C730.49,165.67,733.37,198.65,736.26,198.65C739.14,198.65,742.02,197.28,744.90,194.54C747.79,191.80,750.67,133.07,753.55,133.07C756.43,133.07,759.32,157.39,762.20,181.71L762.20,184.92C759.32,162.07,756.43,139.23,753.55,139.23C750.67,139.23,747.79,194.93,744.90,199.03C742.02,203.14,739.14,205.19,736.26,205.19C733.37,205.19,730.49,173.37,727.61,173.37C724.72,173.37,721.84,239.71,718.96,239.71C716.08,239.71,713.19,211.87,710.31,211.87C707.43,211.87,704.55,237.15,701.66,237.15C698.78,237.15,695.90,234.71,693.02,234.71C690.13,234.71,687.25,277.70,684.37,277.70C681.48,277.70,678.60,270.51,675.72,270.51C672.84,270.51,669.95,296.82,667.07,296.82C664.19,296.82,661.31,258.24,658.42,254.22C655.54,250.20,652.66,248.19,649.77,248.19C646.89,248.19,644.01,249.13,641.13,251.01C638.24,252.89,635.36,271.03,632.48,277.06C629.60,283.09,626.71,287.20,623.83,287.20C620.95,287.20,618.06,127.17,615.18,127.17C612.30,127.17,609.42,134.44,606.53,148.98C603.65,163.53,600.77,251.82,597.89,268.33C595.00,284.85,592.12,288.40,589.24,293.10C586.36,297.81,583.47,300.16,580.59,300.16C577.71,300.16,574.82,286.19,571.94,282.19C569.06,278.19,566.18,280.18,563.29,276.16C560.41,272.14,557.53,215.72,554.65,215.72C551.76,215.72,548.88,274.92,546.00,282.19C543.11,289.47,540.23,289.72,537.35,293.10C534.47,296.48,531.58,302.47,528.70,302.47C525.82,302.47,522.94,297.66,520.05,290.15C517.17,282.64,514.29,263.33,511.41,257.43C508.52,251.52,505.64,248.57,502.76,248.57C499.87,248.57,496.99,252.14,494.11,253.57C491.23,255.01,488.34,256.21,485.46,257.17C482.58,258.13,479.70,257.90,476.81,259.35C473.93,260.80,471.05,282.79,468.16,291.18C465.28,299.56,462.40,307.77,459.52,309.66C456.63,311.54,453.75,311.80,450.87,312.48C447.99,313.16,445.10,312.91,442.22,313.76C439.34,314.62,436.45,319.80,433.57,319.80C430.69,319.80,427.81,298.30,424.92,290.15C422.04,282.00,419.16,270.90,416.28,270.90C413.39,270.90,410.51,315.82,407.63,315.82C404.75,315.82,401.86,315.60,398.98,315.18C396.10,314.75,393.21,312.82,390.33,308.12C387.45,303.41,384.57,279.11,381.68,279.11C378.80,279.11,375.92,280.14,373.04,280.14C370.15,280.14,367.27,245.23,364.39,245.23C361.50,245.23,358.62,275.13,355.74,275.13C352.86,275.13,349.97,232.91,347.09,232.91C344.21,232.91,341.33,296.57,338.44,299.39C335.56,302.21,332.68,301.87,329.79,303.62C326.91,305.38,324.03,309.91,321.15,309.91C318.26,309.91,315.38,292.76,312.50,285.14C309.62,277.53,306.73,264.23,303.85,264.23C300.97,264.23,298.09,265.34,295.20,266.15C292.32,266.96,289.44,267.93,286.55,269.10C283.67,270.28,280.79,270.54,277.91,273.21C275.02,275.88,272.14,285.14,269.26,285.14C266.38,285.14,263.49,280.23,260.61,276.03C257.73,271.84,254.84,264.68,251.96,259.99C249.08,255.31,246.20,247.93,243.31,247.93C240.43,247.93,237.55,249.08,234.67,249.08C231.78,249.08,228.90,244.98,226.02,244.98C223.14,244.98,220.25,287.63,217.37,293.36C214.49,299.09,211.60,296.22,208.72,301.96C205.84,307.69,202.96,327.88,200.07,327.88C197.19,327.88,194.31,323.00,191.43,321.21C188.54,319.41,185.66,317.10,182.78,317.10C179.89,317.10,177.01,317.10,174.13,317.10C171.25,317.10,168.36,305.55,165.48,305.55C162.60,305.55,159.72,310.81,156.83,312.74C153.95,314.66,151.07,314.36,148.18,317.10C145.30,319.84,142.42,328.65,139.54,329.16C136.65,329.68,133.77,329.44,130.89,329.93C128.01,330.43,125.12,332.12,122.24,332.12C119.36,332.12,116.48,332.12,113.59,332.12C110.71,332.12,107.83,327.37,104.94,327.37C102.06,327.37,99.18,332.12,96.30,332.12C93.41,332.12,90.53,331.13,87.65,330.45C84.77,329.76,81.88,328.89,79.00,328.01Z" fill="#8a82de" fill-opacity="0.6" stroke="none"/>
<path d="M79.00,326.08C81.88,327.38,84.77,328.67,87.65,329.68C90.53,330.68,93.41,332.12,96.30,332.12C99.18,332.12,102.06,327.37,104.94,327.37C107.83,327.37,110.71,332.12,113.59,332.12C116.48,332.12,119.36,332.12,122.24,332.12C125.12,332.12,128.01,321.59,130.89,321.59C133.77,321.59,136.65,328.01,139.54,328.01C142.42,328.01,145.30,318.96,148.18,316.07C151.07,313.19,153.95,312.44,156.83,310.68C159.72,308.93,162.60,305.55,165.48,305.55C168.36,305.55,171.25,308.87,174.13,310.43C177.01,311.99,179.89,313.12,182.78,314.92C185.66,316.72,188.54,319.05,191.43,321.21C194.31,323.37,197.19,327.88,200.07,327.88C202.96,327.88,205.84,305.46,208.72,298.11C211.60,290.75,214.49,293.32,217.37,283.73C220.25,274.15,223.14,239.84,226.02,239.84C228.90,239.84,231.78,246.00,234.67,246.00C237.55,246.00,240.43,235.61,243.31,235.61C246.20,235.61,249.08,241.13,251.96,247.80C254.84,254.47,257.73,269.42,260.61,275.65C263.49,281.87,266.38,285.14,269.26,285.14C272.14,285.14,275.02,276.01,277.91,273.21C280.79,270.41,283.67,271.58,286.55,268.33C289.44,265.08,292.32,248.44,295.20,248.44C298.09,248.44,300.97,257.47,303.85,263.58C306.73,269.70,309.62,278.36,312.50,285.14C315.38,291.93,318.26,304.27,321.15,304.27C324.03,304.27,326.91,297.68,329.79,297.08C332.68,296.48,335.56,296.78,338.44,296.18C341.33,295.58,344.21,216.36,347.09,216.36C349.97,216.36,352.86,259.35,355.74,259.35C358.62,259.35,361.50,221.23,364.39,221.23C367.27,221.23,370.15,276.16,373.04,276.16C375.92,276.16,378.80,273.21,381.68,273.21C384.57,273.21,387.45,302.34,390.33,305.17C393.21,307.99,396.10,307.62,398.98,309.40C401.86,311.18,404.75,315.82,407.63,315.82C410.51,315.82,413.39,261.40,416.28,261.40C419.16,261.40,422.04,278.49,424.92,288.23C427.81,297.96,430.69,319.80,433.57,319.80C436.45,319.80,439.34,314.62,442.22,313.76C445.10,312.91,447.99,313.34,450.87,312.48C453.75,311.62,456.63,311.03,459.52,308.12C462.40,305.21,465.28,297.64,468.16,289.38C471.05,281.12,473.93,260.29,476.81,258.58C479.70,256.87,482.58,257.38,485.46,256.01C488.34,254.64,491.23,251.69,494.11,250.37C496.99,249.04,499.87,248.06,502.76,248.06C505.64,248.06,508.52,251.18,511.41,257.43C514.29,263.67,517.17,283.31,520.05,290.15C522.94,296.99,525.82,300.42,528.70,300.42C531.58,300.42,534.47,296.14,537.35,293.10C540.23,290.06,543.11,289.47,546.00,282.19C548.88,274.92,551.76,215.72,554.65,215.72C557.53,215.72,560.41,272.14,563.29,276.16C566.18,280.18,569.06,278.71,571.94,282.19C574.82,285.68,577.71,297.08,580.59,297.08C583.47,297.08,586.36,295.75,589.24,293.10C592.12,290.45,595.00,284.85,597.89,268.33C600.77,251.82,603.65,163.23,606.53,147.06C609.42,130.89,612.30,122.80,615.18,122.80C618.06,122.80,620.95,271.76,623.83,273.47C626.71,275.18,629.60,276.03,632.48,276.03C635.36,276.03,638.24,254.00,641.13,251.01C644.01,248.01,646.89,246.52,649.77,246.52C652.66,246.52,655.54,249.08,658.42,254.22C661.31,259.35,664.19,296.82,667.07,296.82C669.95,296.82,672.84,270.51,675.72,270.51C678.60,270.51,681.48,272.82,684.37,272.82C687.25,272.82,690.13,235.39,693.02,234.71C695.90,234.03,698.78,234.37,701.66,233.68C704.55,233.00,707.43,211.87,710.31,211.87C713.19,211.87,716.08,239.71,718.96,239.71C721.84,239.71,724.72,165.67,727.61,165.67C730.49,165.67,733.37,198.65,736.26,198.65C739.14,198.65,742.02,197.28,744.90,194.54C747.79,191.80,750.67,133.07,753.55,133.07C756.43,133.07,759.32,157.39,762.20,181.71L762.20,181.71C759.32,157.39,756.43,133.07,753.55,133.07C750.67,133.07,747.79,191.80,744.90,194.54C742.02,197.28,739.14,198.65,736.26,198.65C733.37,198.65,730.49,165.67,727.61,165.67C724.72,165.67,721.84,239.71,718.96,239.71C716.08,239.71,713.19,211.87,710.31,211.87C707.43,211.87,704.55,233.00,701.66,233.68C698.78,234.37,695.90,234.03,693.02,234.71C690.13,235.39,687.25,272.82,684.37,272.82C681.48,272.82,678.60,270.51,675.72,270.51C672.84,270.51,669.95,296.82,667.07,296.82C664.19,296.82,661.31,259.35,658.42,254.22C655.54,249.08,652.66,246.52,649.77,246.52C646.89,246.52,644.01,248.01,641.13,251.01C638.24,254.00,635.36,275.61,632.48,276.03C629.60,276.46,626.71,276.68,623.83,276.68C620.95,276.68,618.06,122.80,615.18,122.80C612.30,122.80,609.42,130.89,606.53,147.06C603.65,163.23,600.77,251.82,597.89,268.33C595.00,284.85,592.12,288.40,589.24,293.10C586.36,297.81,583.47,300.16,580.59,300.16C577.71,300.16,574.82,286.19,571.94,282.19C569.06,278.19,566.18,280.18,563.29,276.16C560.41,272.14,557.53,215.72,554.65,215.72C551.76,215.72,548.88,274.92,546.00,282.19C543.11,289.47,540.23,290.06,537.35,293.10C534.47,296.14,531.58,300.42,528.70,300.42C525.82,300.42,522.94,296.99,520.05,290.15C517.17,283.31,514.29,263.67,511.41,257.43C508.52,251.18,505.64,248.06,502.76,248.06C499.87,248.06,496.99,249.04,494.11,250.37C491.23,251.69,488.34,254.64,485.46,256.01C482.58,257.38,479.70,256.87,476.81,258.58C473.93,260.29,471.05,281.12,468.16,289.38C465.28,297.64,462.40,305.21,459.52,308.12C456.63,311.03,453.75,311.62,450.87,312.48C447.99,313.34,445.10,312.91,442.22,313.76C439.34,314.62,436.45,319.80,433.57,319.80C430.69,319.80,427.81,297.96,424.92,288.23C422.04,278.49,419.16,261.40,416.28,261.40C413.39,261.40,410.51,315.82,407.63,315.82C404.75,315.82,401.86,311.18,398.98,309.40C396.10,307.62,393.21,307.99,390.33,305.17C387.45,302.34,384.57,273.21,381.68,273.21C378.80,273.21,375.92,276.16,373.04,276.16C370.15,276.16,367.27,221.23,364.39,221.23C361.50,221.23,358.62,259.35,355.74,259.35C352.86,259.35,349.97,216.36,347.09,216.36C344.21,216.36,341.33,295.58,338.44,296.18C335.56,296.78,332.68,296.48,329.79,297.08C326.91,297.68,324.03,304.27,321.15,304.27C318.26,304.27,315.38,291.93,312.50,285.14C309.62,278.36,306.73,269.70,303.85,263.58C300.97,257.47,298.09,248.44,295.20,248.44C292.32,248.44,289.44,265.08,286.55,268.33C283.67,271.58,280.79,270.41,277.91,273.21C275.02,276.01,272.14,285.14,269.26,285.14C266.38,285.14,263.49,281.87,260.61,275.65C257.73,269.42,254.84,254.47,251.96,247.80C249.08,241.13,246.20,235.61,243.31,235.61C240.43,235.61,237.55,246.00,234.67,246.00C231.78,246.00,228.90,239.84,226.02,239.84C223.14,239.84,220.25,276.85,217.37,285.66C214.49,294.47,211.60,291.84,208.72,298.88C205.84,305.91,202.96,327.88,200.07,327.88C197.19,327.88,194.31,323.37,191.43,321.21C188.54,319.05,185.66,316.72,182.78,314.92C179.89,313.12,177.01,311.99,174.13,310.43C171.25,308.87,168.36,305.55,165.48,305.55C162.60,305.55,159.72,308.93,156.83,310.68C153.95,312.44,151.07,313.19,148.18,316.07C145.30,318.96,142.42,328.01,139.54,328.01C136.65,328.01,133.77,321.59,130.89,321.59C128.01,321.59,125.12,332.12,122.24,332.12C119.36,332.12,116.48,332.12,113.59,332.12C110.71,332.12,107.83,327.37,104.94,327.37C102.06,327.37,99.18,332.12,96.30,332.12C93.41,332.12,90.53,331.13,87.65,330.45C84.77,329.76,81.88,328.89,79.00,328.01Z" fill="#f2b632" fill-opacity="0.6" stroke="none"/>
<path d="M79.00,326.08C81.88,327.41,84.77,328.74,87.65,329.68C90.53,330.62,93.41,331.73,96.30,331.73C99.18,331.73,102.06,327.11,104.94,327.11C107.83,327.11,110.71,331.22,113.59,331.22C116.48,331.22,119.36,331.22,122.24,331.22C125.12,331.22,128.01,320.69,130.89,320.69C133.77,320.69,136.65,327.75,139.54,327.75C142.42,327.75,145.30,318.58,148.18,315.69C151.07,312.80,153.95,312.16,156.83,310.43C159.72,308.69,162.60,305.29,165.48,305.29C168.36,305.29,171.25,308.61,174.13,310.17C177.01,311.73,179.89,312.82,182.78,314.66C185.66,316.50,188.54,319.05,191.43,321.21C194.31,323.37,197.19,327.62,200.07,327.62C202.96,327.62,205.84,304.89,208.72,296.82C211.60,288.76,214.49,288.82,217.37,279.24C220.25,269.66,223.14,239.33,226.02,239.33C228.90,239.33,231.78,245.62,234.67,245.62C237.55,245.62,240.43,235.35,243.31,235.35C246.20,235.35,249.08,240.74,251.96,247.41C254.84,254.09,257.73,269.12,260.61,275.39C263.49,281.66,266.38,285.02,269.26,285.02C272.14,285.02,275.02,275.65,277.91,272.82C280.79,270.00,283.67,271.24,286.55,268.08C289.44,264.91,292.32,248.19,295.20,248.19C298.09,248.19,300.97,257.19,303.85,263.33C306.73,269.47,309.62,278.19,312.50,285.02C315.38,291.84,318.26,304.27,321.15,304.27C324.03,304.27,326.91,297.42,329.79,296.82C332.68,296.22,335.56,296.52,338.44,295.93C341.33,295.33,344.21,215.97,347.09,215.97C349.97,215.97,352.86,259.09,355.74,259.09C358.62,259.09,361.50,220.85,364.39,220.85C367.27,220.85,370.15,276.03,373.04,276.03C375.92,276.03,378.80,272.95,381.68,272.95C384.57,272.95,387.45,302.08,390.33,304.91C393.21,307.73,396.10,307.43,398.98,309.14C401.86,310.85,404.75,315.18,407.63,315.18C410.51,315.18,413.39,261.02,416.28,261.02C419.16,261.02,422.04,278.30,424.92,287.97C427.81,297.64,430.69,319.02,433.57,319.02C436.45,319.02,439.34,312.82,442.22,312.48C445.10,312.14,447.99,312.31,450.87,311.97C453.75,311.62,456.63,310.60,459.52,307.86C462.40,305.12,465.28,297.42,468.16,289.12C471.05,280.82,473.93,259.61,476.81,258.07C479.70,256.53,482.58,257.08,485.46,255.76C488.34,254.43,491.23,251.44,494.11,250.11C496.99,248.78,499.87,247.80,502.76,247.80C505.64,247.80,508.52,250.92,511.41,257.17C514.29,263.41,517.17,281.96,520.05,289.12C522.94,296.29,525.82,300.16,528.70,300.16C531.58,300.16,534.47,295.24,537.35,292.07C540.23,288.91,543.11,288.44,546.00,281.17C548.88,273.89,551.76,215.20,554.65,215.20C557.53,215.20,560.41,269.40,563.29,274.11C566.18,278.81,569.06,277.34,571.94,281.17C574.82,285.00,577.71,297.08,580.59,297.08C583.47,297.08,586.36,295.41,589.24,292.07C592.12,288.74,595.00,283.73,597.89,267.05C600.77,250.37,603.65,162.84,606.53,146.67C609.42,130.50,612.30,122.42,615.18,122.42C618.06,122.42,620.95,255.16,623.83,263.20C626.71,271.24,629.60,275.26,632.48,275.26C635.36,275.26,638.24,252.76,641.13,250.11C644.01,247.46,646.89,246.13,649.77,246.13C652.66,246.13,655.54,248.48,658.42,253.19C661.31,257.90,664.19,296.18,667.07,296.18C669.95,296.18,672.84,270.13,675.72,270.13C678.60,270.13,681.48,272.18,684.37,272.18C687.25,272.18,690.13,234.88,693.02,234.20C695.90,233.51,698.78,233.85,701.66,233.17C704.55,232.49,707.43,211.22,710.31,211.22C713.19,211.22,716.08,238.82,718.96,238.82C721.84,238.82,724.72,165.02,727.61,165.02C730.49,165.02,733.37,198.26,736.26,198.26C739.14,198.26,742.02,196.89,744.90,194.16C747.79,191.42,750.67,132.69,753.55,132.69C756.43,132.69,759.32,156.88,762.20,181.07L762.20,181.71C759.32,157.39,756.43,133.07,753.55,133.07C750.67,133.07,747.79,191.80,744.90,194.54C742.02,197.28,739.14,198.65,736.26,198.65C733.37,198.65,730.49,165.67,727.61,165.67C724.72,165.67,721.84,239.71,718.96,239.71C716.08,239.71,713.19,211.87,710.31,211.87C707.43,211.87,704.55,233.00,701.66,233.68C698.78,234.37,695.90,234.03,693.02,234.71C690.13,235.39,687.25,272.82,684.37,272.82C681.48,272.82,678.60,270.51,675.72,270.51C672.84,270.51,669.95,296.82,667.07,296.82C664.19,296.82,661.31,259.35,658.42,254.22C655.54,249.08,652.66,246.52,649.77,246.52C646.89,246.52,644.01,248.01,641.13,251.01C638.24,254.00,635.36,276.03,632.48,276.03C629.60,276.03,626.71,275.18,623.83,273.47C620.95,271.76,618.06,122.80,615.18,122.80C612.30,122.80,609.42,130.89,606.53,147.06C603.65,163.23,600.77,251.82,597.89,268.33C595.00,284.85,592.12,290.45,589.24,293.10C586.36,295.75,583.47,297.08,580.59,297.08C577.71,297.08,574.82,285.68,571.94,282.19C569.06,278.71,566.18,280.18,563.29,276.16C560.41,272.14,557.53,215.72,554.65,215.72C551.76,215.72,548.88,274.92,546.00,282.19C543.11,289.47,540.23,290.06,537.35,293.10C534.47,296.14,531.58,300.42,528.70,300.42C525.82,300.42,522.94,296.99,520.05,290.15C517.17,283.31,514.29,263.67,511.41,257.43C508.52,251.18,505.64,248.06,502.76,248.06C499.87,248.06,496.99,249.04,494.11,250.37C491.23,251.69,488.34,254.64,485.46,256.01C482.58,257.38,479.70,256.87,476.81,258.58C473.93,260.29,471.05,281.12,468.16,289.38C465.28,297.64,462.40,305.21,459.52,308.12C456.63,311.03,453.75,311.62,450.87,312.48C447.99,313.34,445.10,312.91,442.22,313.76C439.34,314.62,436.45,319.80,433.57,319.80C430.69,319.80,427.81,297.96,424.92,288.23C422.04,278.49,419.16,261.40,416.28,261.40C413.39,261.40,410.51,315.82,407.63,315.82C404.75,315.82,401.86,311.18,398.98,309.40C396.10,307.62,393.21,307.99,390.33,305.17C387.45,302.34,384.57,273.21,381.68,273.21C378.80,273.21,375.92,276.16,373.04,276.16C370.15,276.16,367.27,221.23,364.39,221.23C361.50,221.23,358.62,259.35,355.74,259.35C352.86,259.35,349.97,216.36,347.09,216.36C344.21,216.36,341.33,295.58,338.44,296.18C335.56,296.78,332.68,296.48,329.79,297.08C326.91,297.68,324.03,304.27,321.15,304.27C318.26,304.27,315.38,291.93,312.50,285.14C309.62,278.36,306.73,269.70,303.85,263.58C300.97,257.47,298.09,248.44,295.20,248.44C292.32,248.44,289.44,265.08,286.55,268.33C283.67,271.58,280.79,270.41,277.91,273.21C275.02,276.01,272.14,285.14,269.26,285.14C266.38,285.14,263.49,281.87,260.61,275.65C257.73,269.42,254.84,254.47,251.96,247.80C249.08,241.13,246.20,235.61,243.31,235.61C240.43,235.61,237.55,246.00,234.67,246.00C231.78,246.00,228.90,239.84,226.02,239.84C223.14,239.84,220.25,274.15,217.37,283.73C214.49,293.32,211.60,290.75,208.72,298.11C205.84,305.46,202.96,327.88,200.07,327.88C197.19,327.88,194.31,323.37,191.43,321.21C188.54,319.05,185.66,316.72,182.78,314.92C179.89,313.12,177.01,311.99,174.13,310.43C171.25,308.87,168.36,305.55,165.48,305.55C162.60,305.55,159.72,308.93,156.83,310.68C153.95,312.44,151.07,313.19,148.18,316.07C145.30,318.96,142.42,328.01,139.54,328.01C136.65,328.01,133.77,321.59,130.89,321.59C128.01,321.59,125.12,332.12,122.24,332.12C119.36,332.12,116.48,332.12,113.59,332.12C110.71,332.12,107.83,327.37,104.94,327.37C102.06,327.37,99.18,332.12,96.30,332.12C93.41,332.12,90.53,330.68,87.65,329.68C84.77,328.67,81.88,327.38,79.00,326.08Z" fill="#8fcaa0" fill-opacity="0.6" stroke="none"/>
<path d="M96.30,332.12C99.18,332.12,102.06,329.93,104.94,329.93C107.83,329.93,110.71,332.12,113.59,332.12M200.07,331.22C202.96,331.22,205.84,309.14,208.72,309.14C211.60,309.14,214.49,311.07,217.37,311.07C220.25,311.07,223.14,284.12,226.02,284.12C228.90,284.12,231.78,326.34,234.67,326.34C237.55,326.34,240.43,293.10,243.31,293.10C246.20,293.10,249.08,293.10,251.96,293.10C254.84,293.10,257.73,301.91,260.61,307.09M286.55,305.17C289.44,304.57,292.32,304.27,295.20,304.27C298.09,304.27,300.97,310.51,303.85,314.15C306.73,317.78,309.62,323.37,312.50,326.08M355.74,304.52C358.62,302.81,361.50,296.18,364.39,296.18C367.27,296.18,370.15,319.15,373.04,319.15M398.98,323.52C401.86,323.52,404.75,329.55,407.63,329.55C410.51,329.55,413.39,309.66,416.28,309.66C419.16,309.66,422.04,313.14,424.92,316.20C427.81,319.26,430.69,328.01,433.57,328.01M494.11,303.11C496.99,300.91,499.87,297.85,502.76,297.85C505.64,297.85,508.52,298.62,511.41,300.16M520.05,312.10C522.94,316.76,525.82,328.14,528.70,328.14C531.58,328.14,534.47,318.32,537.35,314.15M580.59,326.08C583.47,326.08,586.36,312.82,589.24,306.83C592.12,300.84,595.00,301.27,597.89,290.15C600.77,279.03,603.65,241.38,606.53,240.10C609.42,238.82,612.30,238.18,615.18,238.18C618.06,238.18,620.95,308.12,623.83,308.12C626.71,308.12,629.60,307.30,632.48,305.68M667.07,319.92C669.95,319.92,672.84,311.58,675.72,311.58C678.60,311.58,681.48,311.84,684.37,312.35C687.25,312.87,690.13,316.84,693.02,318.13M718.96,310.94C721.84,310.94,724.72,265.12,727.61,265.12C730.49,265.12,733.37,270.79,736.26,274.75C739.14,278.71,742.02,288.87,744.90,288.87C747.79,288.87,750.67,287.58,753.55,287.58C756.43,287.58,759.32,296.37,762.20,305.17" fill="none" stroke="#4a5f58" stroke-opacity="0.34" stroke-width="0.85"/>
<path d="M79.00,329.93C81.88,330.39,84.77,330.85,87.65,331.22C90.53,331.58,93.41,332.12,96.30,332.12M139.54,329.42C142.42,327.37,145.30,319.15,148.18,319.15C151.07,319.15,153.95,323.26,156.83,323.26M200.07,331.22C202.96,331.22,205.84,305.17,208.72,305.17C211.60,305.17,214.49,308.12,217.37,308.12C220.25,308.12,223.14,283.73,226.02,283.73C228.90,283.73,231.78,326.34,234.67,326.34C237.55,326.34,240.43,286.69,243.31,286.69C246.20,286.69,249.08,287.84,251.96,290.15C254.84,292.46,257.73,301.42,260.61,307.09C263.49,312.76,266.38,324.16,269.26,324.16C272.14,324.16,275.02,318.98,277.91,315.82C280.79,312.65,283.67,308.12,286.55,305.17C289.44,302.21,292.32,298.11,295.20,298.11C298.09,298.11,300.97,308.59,303.85,313.25C306.73,317.91,309.62,323.22,312.50,326.08C315.38,328.95,318.26,330.45,321.15,330.45C324.03,330.45,326.91,324.29,329.79,321.59C332.68,318.90,335.56,316.69,338.44,314.28C341.33,311.86,344.21,308.72,347.09,307.09C349.97,305.46,352.86,306.23,355.74,304.52C358.62,302.81,361.50,295.03,364.39,295.03C367.27,295.03,370.15,319.15,373.04,319.15C375.92,319.15,378.80,304.14,381.68,304.14C384.57,304.14,387.45,325.83,390.33,325.83C393.21,325.83,396.10,323.52,398.98,323.52C401.86,323.52,404.75,326.34,407.63,326.34C410.51,326.34,413.39,308.12,416.28,308.12C419.16,308.12,422.04,309.10,424.92,311.07C427.81,313.04,430.69,328.01,433.57,328.01C436.45,328.01,439.34,318.13,442.22,318.13C445.10,318.13,447.99,325.70,450.87,325.70C453.75,325.70,456.63,324.01,459.52,321.08C462.40,318.15,465.28,313.06,468.16,308.12C471.05,303.18,473.93,291.43,476.81,291.43C479.70,291.43,482.58,311.07,485.46,311.07C488.34,311.07,491.23,306.28,494.11,303.11C496.99,299.95,499.87,292.07,502.76,292.07C505.64,292.07,508.52,296.82,511.41,300.16C514.29,303.50,517.17,308.10,520.05,312.10C522.94,316.09,525.82,324.16,528.70,324.16C531.58,324.16,534.47,317.66,537.35,314.15C540.23,310.64,543.11,310.47,546.00,303.11C548.88,295.75,551.76,242.15,554.65,242.15C557.53,242.15,560.41,290.32,563.29,291.69C566.18,293.06,569.06,292.37,571.94,293.74C574.82,295.11,577.71,326.08,580.59,326.08M597.89,290.15C600.77,281.59,603.65,238.43,606.53,237.15C609.42,235.86,612.30,235.22,615.18,235.22C618.06,235.22,620.95,294.77,623.83,299.13M641.13,296.18C644.01,292.87,646.89,285.79,649.77,285.79C652.66,285.79,655.54,291.65,658.42,297.34C661.31,303.03,664.19,319.92,667.07,319.92C669.95,319.92,672.84,309.27,675.72,309.27C678.60,309.27,681.48,309.31,684.37,309.40C687.25,309.49,690.13,316.84,693.02,318.13C695.90,319.41,698.78,320.05,701.66,320.05C704.55,320.05,707.43,300.16,710.31,300.16M718.96,310.94C721.84,310.94,724.72,262.56,727.61,262.56C730.49,262.56,733.37,268.03,736.26,271.80C739.14,275.56,742.02,285.14,744.90,285.14C747.79,285.14,750.67,283.99,753.55,283.99C756.43,283.99,759.32,293.55,762.20,303.11" fill="none" stroke="#4a5f58" stroke-opacity="0.34" stroke-width="0.85"/>
<path d="M96.30,332.12C99.18,332.12,102.06,328.65,104.94,328.65C107.83,328.65,110.71,332.12,113.59,332.12M122.24,332.12C125.12,332.12,128.01,332.50,130.89,332.50C133.77,332.50,136.65,331.47,139.54,329.42C142.42,327.37,145.30,318.38,148.18,318.38C151.07,318.38,153.95,323.26,156.83,323.26C159.72,323.26,162.60,315.82,165.48,315.82C168.36,315.82,171.25,319.67,174.13,319.67C177.01,319.67,179.89,317.74,182.78,317.74C185.66,317.74,188.54,319.99,191.43,322.23C194.31,324.48,197.19,331.22,200.07,331.22C202.96,331.22,205.84,303.92,208.72,302.73C211.60,301.53,214.49,302.13,217.37,300.93C220.25,299.73,223.14,276.16,226.02,276.16C228.90,276.16,231.78,325.44,234.67,325.44C237.55,325.44,240.43,282.19,243.31,282.19C246.20,282.19,249.08,283.56,251.96,286.30C254.84,289.04,257.73,299.43,260.61,305.17C263.49,310.90,266.38,320.69,269.26,320.69C272.14,320.69,275.02,305.72,277.91,304.27C280.79,302.81,283.67,303.54,286.55,302.08C289.44,300.63,292.32,288.10,295.20,288.10C298.09,288.10,300.97,297.10,303.85,303.11C306.73,309.12,309.62,319.97,312.50,324.16C315.38,328.35,318.26,330.45,321.15,330.45C324.03,330.45,326.91,323.00,329.79,319.67C332.68,316.33,335.56,313.25,338.44,310.43C341.33,307.60,344.21,304.44,347.09,302.73C349.97,301.02,352.86,301.87,355.74,300.16C358.62,298.45,361.50,285.79,364.39,285.79C367.27,285.79,370.15,304.14,373.04,304.14C375.92,304.14,378.80,295.80,381.68,295.80C384.57,295.80,387.45,317.70,390.33,318.64C393.21,319.58,396.10,319.11,398.98,320.05C401.86,320.99,404.75,325.83,407.63,325.83C410.51,325.83,413.39,305.17,416.28,305.17C419.16,305.17,422.04,306.49,424.92,309.14C427.81,311.80,430.69,328.01,433.57,328.01C436.45,328.01,439.34,317.36,442.22,317.36C445.10,317.36,447.99,321.72,450.87,321.72C453.75,321.72,456.63,317.74,459.52,314.15C462.40,310.55,465.28,306.08,468.16,300.16C471.05,294.24,473.93,278.60,476.81,278.60C479.70,278.60,482.58,295.28,485.46,297.08C488.34,298.88,491.23,299.77,494.11,299.77C496.99,299.77,499.87,284.93,502.76,282.19C505.64,279.46,508.52,278.09,511.41,278.09C514.29,278.09,517.17,297.42,520.05,304.27C522.94,311.11,525.82,319.15,528.70,319.15C531.58,319.15,534.47,311.03,537.35,308.12C540.23,305.21,543.11,305.98,546.00,301.70C548.88,297.42,551.76,237.15,554.65,237.15C557.53,237.15,560.41,288.87,563.29,289.64C566.18,290.41,569.06,290.02,571.94,290.79C574.82,291.56,577.71,326.08,580.59,326.08C583.47,326.08,586.36,308.97,589.24,302.98C592.12,296.99,595.00,298.71,597.89,290.15C600.77,281.59,603.65,232.83,606.53,224.70C609.42,216.57,612.30,212.51,615.18,212.51C618.06,212.51,620.95,294.77,623.83,299.13C626.71,303.50,629.60,305.68,632.48,305.68C635.36,305.68,638.24,299.58,641.13,296.18C644.01,292.78,646.89,285.27,649.77,285.27C652.66,285.27,655.54,287.07,658.42,290.66C661.31,294.26,664.19,319.92,667.07,319.92C669.95,319.92,672.84,308.25,675.72,308.25C678.60,308.25,681.48,308.29,684.37,308.37C687.25,308.46,690.13,317.61,693.02,317.61C695.90,317.61,698.78,317.31,701.66,316.71C704.55,316.12,707.43,300.16,710.31,300.16C713.19,300.16,716.08,310.94,718.96,310.94C721.84,310.94,724.72,255.76,727.61,255.76C730.49,255.76,733.37,264.23,736.26,268.85C739.14,273.47,742.02,283.48,744.90,283.48C747.79,283.48,750.67,263.33,753.55,263.33C756.43,263.33,759.32,278.02,762.20,292.72" fill="none" stroke="#4a5f58" stroke-opacity="0.34" stroke-width="0.85"/>
<path d="M122.24,332.12C125.12,332.12,128.01,330.43,130.89,329.93C133.77,329.44,136.65,329.68,139.54,329.16C142.42,328.65,145.30,319.84,148.18,317.10C151.07,314.36,153.95,314.66,156.83,312.74C159.72,310.81,162.60,305.55,165.48,305.55C168.36,305.55,171.25,317.10,174.13,317.10C177.01,317.10,179.89,317.10,182.78,317.10C185.66,317.10,188.54,319.41,191.43,321.21M200.07,327.88C202.96,327.88,205.84,307.69,208.72,301.96C211.60,296.22,214.49,299.09,217.37,293.36C220.25,287.63,223.14,244.98,226.02,244.98C228.90,244.98,231.78,249.08,234.67,249.08C237.55,249.08,240.43,247.93,243.31,247.93C246.20,247.93,249.08,255.31,251.96,259.99C254.84,264.68,257.73,271.84,260.61,276.03C263.49,280.23,266.38,285.14,269.26,285.14M277.91,273.21C280.79,270.54,283.67,270.28,286.55,269.10C289.44,267.93,292.32,266.96,295.20,266.15C298.09,265.34,300.97,264.23,303.85,264.23C306.73,264.23,309.62,277.53,312.50,285.14C315.38,292.76,318.26,309.91,321.15,309.91C324.03,309.91,326.91,305.38,329.79,303.62C332.68,301.87,335.56,302.21,338.44,299.39C341.33,296.57,344.21,232.91,347.09,232.91C349.97,232.91,352.86,275.13,355.74,275.13C358.62,275.13,361.50,245.23,364.39,245.23C367.27,245.23,370.15,280.14,373.04,280.14C375.92,280.14,378.80,279.11,381.68,279.11C384.57,279.11,387.45,303.41,390.33,308.12C393.21,312.82,396.10,314.75,398.98,315.18C401.86,315.60,404.75,315.82,407.63,315.82C410.51,315.82,413.39,270.90,416.28,270.90C419.16,270.90,422.04,282.00,424.92,290.15C427.81,298.30,430.69,319.80,433.57,319.80M450.87,312.48C453.75,311.80,456.63,311.54,459.52,309.66C462.40,307.77,465.28,299.56,468.16,291.18C471.05,282.79,473.93,260.80,476.81,259.35C479.70,257.90,482.58,258.13,485.46,257.17C488.34,256.21,491.23,255.01,494.11,253.57C496.99,252.14,499.87,248.57,502.76,248.57C505.64,248.57,508.52,251.52,511.41,257.43M520.05,290.15C522.94,297.66,525.82,302.47,528.70,302.47C531.58,302.47,534.47,296.48,537.35,293.10M597.89,268.33C600.77,251.82,603.65,163.53,606.53,148.98C609.42,134.44,612.30,127.17,615.18,127.17C618.06,127.17,620.95,287.20,623.83,287.20C626.71,287.20,629.60,283.09,632.48,277.06C635.36,271.03,638.24,252.89,641.13,251.01C644.01,249.13,646.89,248.19,649.77,248.19C652.66,248.19,655.54,250.20,658.42,254.22M675.72,270.51C678.60,270.51,681.48,277.70,684.37,277.70C687.25,277.70,690.13,234.71,693.02,234.71C695.90,234.71,698.78,237.15,701.66,237.15C704.55,237.15,707.43,211.87,710.31,211.87M718.96,239.71C721.84,239.71,724.72,173.37,727.61,173.37C730.49,173.37,733.37,205.19,736.26,205.19C739.14,205.19,742.02,203.14,744.90,199.03C747.79,194.93,750.67,139.23,753.55,139.23C756.43,139.23,759.32,162.07,762.20,184.92" fill="none" stroke="#4a5f58" stroke-opacity="0.34" stroke-width="0.85"/>
<path d="M79.00,328.01C81.88,328.89,84.77,329.76,87.65,330.45C90.53,331.13,93.41,332.12,96.30,332.12M200.07,327.88C202.96,327.88,205.84,305.91,208.72,298.88C211.60,291.84,214.49,294.47,217.37,285.66C220.25,276.85,223.14,239.84,226.02,239.84M571.94,282.19C574.82,286.19,577.71,300.16,580.59,300.16C583.47,300.16,586.36,297.81,589.24,293.10M615.18,122.80C618.06,122.80,620.95,276.68,623.83,276.68C626.71,276.68,629.60,276.46,632.48,276.03" fill="none" stroke="#4a5f58" stroke-opacity="0.34" stroke-width="0.85"/>
<path d="M87.65,329.68C90.53,330.68,93.41,332.12,96.30,332.12C99.18,332.12,102.06,327.37,104.94,327.37C107.83,327.37,110.71,332.12,113.59,332.12C116.48,332.12,119.36,332.12,122.24,332.12C125.12,332.12,128.01,321.59,130.89,321.59C133.77,321.59,136.65,328.01,139.54,328.01C142.42,328.01,145.30,318.96,148.18,316.07C151.07,313.19,153.95,312.44,156.83,310.68C159.72,308.93,162.60,305.55,165.48,305.55C168.36,305.55,171.25,308.87,174.13,310.43C177.01,311.99,179.89,313.12,182.78,314.92C185.66,316.72,188.54,319.05,191.43,321.21C194.31,323.37,197.19,327.88,200.07,327.88C202.96,327.88,205.84,305.46,208.72,298.11C211.60,290.75,214.49,293.32,217.37,283.73C220.25,274.15,223.14,239.84,226.02,239.84C228.90,239.84,231.78,246.00,234.67,246.00C237.55,246.00,240.43,235.61,243.31,235.61C246.20,235.61,249.08,241.13,251.96,247.80C254.84,254.47,257.73,269.42,260.61,275.65C263.49,281.87,266.38,285.14,269.26,285.14C272.14,285.14,275.02,276.01,277.91,273.21C280.79,270.41,283.67,271.58,286.55,268.33C289.44,265.08,292.32,248.44,295.20,248.44C298.09,248.44,300.97,257.47,303.85,263.58C306.73,269.70,309.62,278.36,312.50,285.14C315.38,291.93,318.26,304.27,321.15,304.27C324.03,304.27,326.91,297.68,329.79,297.08C332.68,296.48,335.56,296.78,338.44,296.18C341.33,295.58,344.21,216.36,347.09,216.36C349.97,216.36,352.86,259.35,355.74,259.35C358.62,259.35,361.50,221.23,364.39,221.23C367.27,221.23,370.15,276.16,373.04,276.16C375.92,276.16,378.80,273.21,381.68,273.21C384.57,273.21,387.45,302.34,390.33,305.17C393.21,307.99,396.10,307.62,398.98,309.40C401.86,311.18,404.75,315.82,407.63,315.82C410.51,315.82,413.39,261.40,416.28,261.40C419.16,261.40,422.04,278.49,424.92,288.23C427.81,297.96,430.69,319.80,433.57,319.80C436.45,319.80,439.34,314.62,442.22,313.76C445.10,312.91,447.99,313.34,450.87,312.48C453.75,311.62,456.63,311.03,459.52,308.12C462.40,305.21,465.28,297.64,468.16,289.38C471.05,281.12,473.93,260.29,476.81,258.58C479.70,256.87,482.58,257.38,485.46,256.01C488.34,254.64,491.23,251.69,494.11,250.37C496.99,249.04,499.87,248.06,502.76,248.06C505.64,248.06,508.52,251.18,511.41,257.43C514.29,263.67,517.17,283.31,520.05,290.15C522.94,296.99,525.82,300.42,528.70,300.42C531.58,300.42,534.47,296.14,537.35,293.10C540.23,290.06,543.11,289.47,546.00,282.19C548.88,274.92,551.76,215.72,554.65,215.72C557.53,215.72,560.41,272.14,563.29,276.16C566.18,280.18,569.06,278.71,571.94,282.19C574.82,285.68,577.71,297.08,580.59,297.08C583.47,297.08,586.36,295.75,589.24,293.10C592.12,290.45,595.00,284.85,597.89,268.33C600.77,251.82,603.65,163.23,606.53,147.06C609.42,130.89,612.30,122.80,615.18,122.80C618.06,122.80,620.95,271.76,623.83,273.47C626.71,275.18,629.60,276.03,632.48,276.03C635.36,276.03,638.24,254.00,641.13,251.01C644.01,248.01,646.89,246.52,649.77,246.52C652.66,246.52,655.54,249.08,658.42,254.22C661.31,259.35,664.19,296.82,667.07,296.82C669.95,296.82,672.84,270.51,675.72,270.51C678.60,270.51,681.48,272.82,684.37,272.82C687.25,272.82,690.13,235.39,693.02,234.71C695.90,234.03,698.78,234.37,701.66,233.68C704.55,233.00,707.43,211.87,710.31,211.87C713.19,211.87,716.08,239.71,718.96,239.71C721.84,239.71,724.72,165.67,727.61,165.67C730.49,165.67,733.37,198.65,736.26,198.65C739.14,198.65,742.02,197.28,744.90,194.54C747.79,191.80,750.67,133.07,753.55,133.07C756.43,133.07,759.32,157.39,762.20,181.71" fill="none" stroke="#4a5f58" stroke-opacity="0.34" stroke-width="0.85"/>
<path d="M79.00,326.08C81.88,327.41,84.77,328.74,87.65,329.68C90.53,330.62,93.41,331.73,96.30,331.73C99.18,331.73,102.06,327.11,104.94,327.11C107.83,327.11,110.71,331.22,113.59,331.22C116.48,331.22,119.36,331.22,122.24,331.22C125.12,331.22,128.01,320.69,130.89,320.69C133.77,320.69,136.65,327.75,139.54,327.75C142.42,327.75,145.30,318.58,148.18,315.69C151.07,312.80,153.95,312.16,156.83,310.43C159.72,308.69,162.60,305.29,165.48,305.29C168.36,305.29,171.25,308.61,174.13,310.17C177.01,311.73,179.89,312.82,182.78,314.66C185.66,316.50,188.54,319.05,191.43,321.21C194.31,323.37,197.19,327.62,200.07,327.62C202.96,327.62,205.84,304.89,208.72,296.82C211.60,288.76,214.49,288.82,217.37,279.24C220.25,269.66,223.14,239.33,226.02,239.33C228.90,239.33,231.78,245.62,234.67,245.62C237.55,245.62,240.43,235.35,243.31,235.35C246.20,235.35,249.08,240.74,251.96,247.41C254.84,254.09,257.73,269.12,260.61,275.39C263.49,281.66,266.38,285.02,269.26,285.02C272.14,285.02,275.02,275.65,277.91,272.82C280.79,270.00,283.67,271.24,286.55,268.08C289.44,264.91,292.32,248.19,295.20,248.19C298.09,248.19,300.97,257.19,303.85,263.33C306.73,269.47,309.62,278.19,312.50,285.02C315.38,291.84,318.26,304.27,321.15,304.27C324.03,304.27,326.91,297.42,329.79,296.82C332.68,296.22,335.56,296.52,338.44,295.93C341.33,295.33,344.21,215.97,347.09,215.97C349.97,215.97,352.86,259.09,355.74,259.09C358.62,259.09,361.50,220.85,364.39,220.85C367.27,220.85,370.15,276.03,373.04,276.03C375.92,276.03,378.80,272.95,381.68,272.95C384.57,272.95,387.45,302.08,390.33,304.91C393.21,307.73,396.10,307.43,398.98,309.14C401.86,310.85,404.75,315.18,407.63,315.18C410.51,315.18,413.39,261.02,416.28,261.02C419.16,261.02,422.04,278.30,424.92,287.97C427.81,297.64,430.69,319.02,433.57,319.02C436.45,319.02,439.34,312.82,442.22,312.48C445.10,312.14,447.99,312.31,450.87,311.97C453.75,311.62,456.63,310.60,459.52,307.86C462.40,305.12,465.28,297.42,468.16,289.12C471.05,280.82,473.93,259.61,476.81,258.07C479.70,256.53,482.58,257.08,485.46,255.76C488.34,254.43,491.23,251.44,494.11,250.11C496.99,248.78,499.87,247.80,502.76,247.80C505.64,247.80,508.52,250.92,511.41,257.17C514.29,263.41,517.17,281.96,520.05,289.12C522.94,296.29,525.82,300.16,528.70,300.16C531.58,300.16,534.47,295.24,537.35,292.07C540.23,288.91,543.11,288.44,546.00,281.17C548.88,273.89,551.76,215.20,554.65,215.20C557.53,215.20,560.41,269.40,563.29,274.11C566.18,278.81,569.06,277.34,571.94,281.17C574.82,285.00,577.71,297.08,580.59,297.08C583.47,297.08,586.36,295.41,589.24,292.07C592.12,288.74,595.00,283.73,597.89,267.05C600.77,250.37,603.65,162.84,606.53,146.67C609.42,130.50,612.30,122.42,615.18,122.42C618.06,122.42,620.95,255.16,623.83,263.20C626.71,271.24,629.60,275.26,632.48,275.26C635.36,275.26,638.24,252.76,641.13,250.11C644.01,247.46,646.89,246.13,649.77,246.13C652.66,246.13,655.54,248.48,658.42,253.19C661.31,257.90,664.19,296.18,667.07,296.18C669.95,296.18,672.84,270.13,675.72,270.13C678.60,270.13,681.48,272.18,684.37,272.18C687.25,272.18,690.13,234.88,693.02,234.20C695.90,233.51,698.78,233.85,701.66,233.17C704.55,232.49,707.43,211.22,710.31,211.22C713.19,211.22,716.08,238.82,718.96,238.82C721.84,238.82,724.72,165.02,727.61,165.02C730.49,165.02,733.37,198.26,736.26,198.26C739.14,198.26,742.02,196.89,744.90,194.16C747.79,191.42,750.67,132.69,753.55,132.69C756.43,132.69,759.32,156.88,762.20,181.07" fill="none" stroke="#4a5f58" stroke-opacity="0.34" stroke-width="0.85"/>
</g>
<g class="ticks">
<text x="73.20" y="336.40" text-anchor="end" class="yl">0</text>
<text x="73.20" y="278.65" text-anchor="end" class="yl">45</text>
<text x="73.20" y="220.90" text-anchor="end" class="yl">90</text>
<text x="73.20" y="163.15" text-anchor="end" class="yl">135</text>
<text x="73.20" y="110.00" text-anchor="end" class="yl">180</text>
<text x="85.00" y="346.00" style="letter-spacing:0.000px">2016-12-01</text>
<text x="153.35" y="346.00" style="letter-spacing:0.228px">2017-08-01</text>
<text x="222.10" y="346.00" style="letter-spacing:0.261px">2018-04-01</text>
<text x="292.40" y="346.00" style="letter-spacing:0.072px">2018-12-01</text>
<text x="360.60" y="346.00" style="letter-spacing:0.261px">2019-08-01</text>
<text x="428.90" y="346.00" style="letter-spacing:0.494px">2020-04-01</text>
<text x="499.40" y="346.00" style="letter-spacing:0.172px">2020-12-01</text>
<text x="568.25" y="346.00" style="letter-spacing:0.261px">2021-08-01</text>
<text x="636.50" y="346.00" style="letter-spacing:0.406px">2022-04-01</text>
<text x="704.50" y="346.00" style="letter-spacing:0.417px">2023-03-01</text>
</g>
<g class="legend">
<g stroke="#4c6ea8" fill="none" stroke-width="1"><line x1="181.2" y1="362.0" x2="190.4" y2="362.0"/><circle cx="185.8" cy="362.0" r="1.5" fill="#fff"/></g>
<text x="194.0" y="365.6" fill="#4c6ea8" style="letter-spacing:0.00px">all</text>
<g stroke="#fbd08a" fill="none" stroke-width="1"><line x1="211.0" y1="362.0" x2="220.2" y2="362.0"/><circle cx="215.6" cy="362.0" r="1.5" fill="#fff"/></g>
<text x="224.0" y="365.6" fill="#fbd08a" style="letter-spacing:0.00px">core</text>
<g stroke="#3b7cf0" fill="none" stroke-width="1"><line x1="253.0" y1="362.0" x2="262.2" y2="362.0"/><circle cx="257.6" cy="362.0" r="1.5" fill="#fff"/></g>
<text x="265.5" y="365.6" fill="#3b7cf0" style="letter-spacing:0.22px">networking</text>
<g stroke="#f08048" fill="none" stroke-width="1"><line x1="327.7" y1="362.0" x2="336.9" y2="362.0"/><circle cx="332.3" cy="362.0" r="1.5" fill="#fff"/></g>
<text x="340.0" y="365.6" fill="#f08048" style="letter-spacing:0.15px">interface</text>
<g stroke="#52c4a0" fill="none" stroke-width="1"><line x1="391.0" y1="362.0" x2="400.2" y2="362.0"/><circle cx="395.6" cy="362.0" r="1.5" fill="#fff"/></g>
<text x="403.7" y="365.6" fill="#52c4a0" style="letter-spacing:0.00px">erc</text>
<g stroke="#827bcf" fill="none" stroke-width="1"><line x1="426.2" y1="362.0" x2="435.4" y2="362.0"/><circle cx="430.8" cy="362.0" r="1.5" fill="#fff"/></g>
<text x="438.7" y="365.6" fill="#827bcf" style="letter-spacing:0.00px">meta</text>
<g stroke="#f2b632" fill="none" stroke-width="1"><line x1="470.5" y1="362.0" x2="479.7" y2="362.0"/><circle cx="475.1" cy="362.0" r="1.5" fill="#fff"/></g>
<text x="482.8" y="365.6" fill="#f2b632" style="letter-spacing:0.14px">informational</text>
<g stroke="#8fcaa0" fill="none" stroke-width="1"><line x1="554.7" y1="362.0" x2="563.9" y2="362.0"/><circle cx="559.3" cy="362.0" r="1.5" fill="#fff"/></g>
<text x="567.5" y="365.6" fill="#8fcaa0" style="letter-spacing:0.00px">unknown</text>
</g>
</svg>
<div id="title">EIP Commits by Category</div>
<div id="brand"><span style="letter-spacing:-1.25px">E</span><span style="letter-spacing:1.15px">I</span><span style="letter-spacing:-3.35px">P</span><span style="letter-spacing:-1.05px">S</span><span style="letter-spacing:2.15px">.</span><span style="letter-spacing:2.95px">w</span><span style="letter-spacing:0.95px">t</span>f</div>
</body></html>
